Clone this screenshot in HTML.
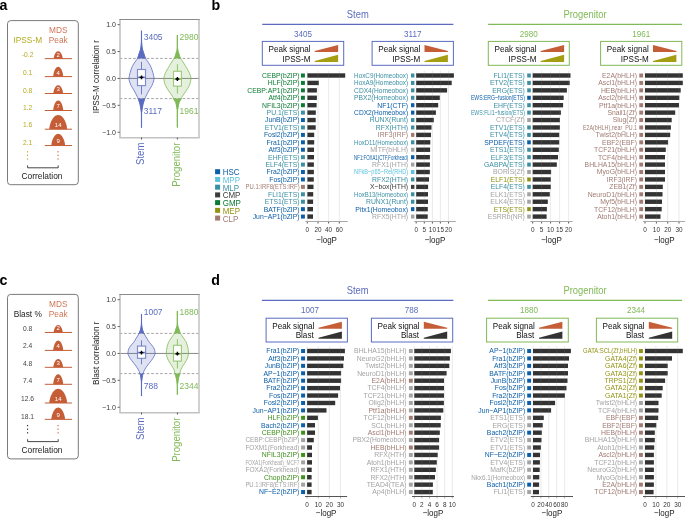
<!DOCTYPE html>
<html><head><meta charset="utf-8"><style>
html,body{margin:0;padding:0;background:#fff;overflow:hidden}
svg{display:block;will-change:transform}
text{font-family:"Liberation Sans", sans-serif}
</style></head><body>
<svg width="685" height="519" viewBox="0 0 685 519">
<rect width="685" height="519" fill="#fff"/>
<text x="-0.60" y="10.00" font-size="14.2" fill="#000" text-anchor="start" font-weight="bold">a</text>
<text x="211.60" y="10.00" font-size="14.2" fill="#000" text-anchor="start" font-weight="bold">b</text>
<text x="-0.60" y="285.30" font-size="14.2" fill="#000" text-anchor="start" font-weight="bold">c</text>
<text x="211.20" y="285.10" font-size="14.2" fill="#000" text-anchor="start" font-weight="bold">d</text>
<rect x="7.5" y="20.60" width="70.8" height="164.10" rx="3.2" fill="none" stroke="#6b6b6b" stroke-width="0.9"/>
<text x="58.30" y="33.00" font-size="8.3" fill="#cf7656" text-anchor="middle" >MDS</text>
<text x="58.30" y="42.70" font-size="8.3" fill="#cf7656" text-anchor="middle" >Peak</text>
<text x="27.80" y="42.70" font-size="8.3" fill="#b3ab22" text-anchor="middle" >IPSS-M</text>
<text x="27.60" y="56.75" font-size="6.7" fill="#b3ab22" text-anchor="middle" >-0.2</text>
<rect x="44.8" y="58.15" width="27.2" height="1.0" fill="#c55d37"/>
<path d="M62.70,58.65 L62.69,58.34 L62.66,58.02 L62.62,57.71 L62.57,57.40 L62.51,57.09 L62.45,56.77 L62.37,56.46 L62.29,56.15 L62.20,55.84 L62.11,55.52 L62.00,55.21 L61.88,54.90 L61.76,54.59 L61.62,54.27 L61.47,53.96 L61.31,53.65 L61.13,53.34 L60.93,53.02 L60.71,52.71 L60.46,52.40 L60.17,52.09 L59.82,51.77 L59.35,51.46 L58.20,51.15 L58.20,51.15 L57.05,51.46 L56.58,51.77 L56.23,52.09 L55.94,52.40 L55.69,52.71 L55.47,53.02 L55.27,53.34 L55.09,53.65 L54.93,53.96 L54.78,54.27 L54.64,54.59 L54.52,54.90 L54.40,55.21 L54.29,55.52 L54.20,55.84 L54.11,56.15 L54.03,56.46 L53.95,56.77 L53.89,57.09 L53.83,57.40 L53.78,57.71 L53.74,58.02 L53.71,58.34 L53.70,58.65 Z" fill="#c55d37"/>
<text x="58.20" y="56.55" font-size="6.0" fill="#fff" text-anchor="middle" >2</text>
<text x="27.60" y="74.55" font-size="6.7" fill="#b3ab22" text-anchor="middle" >0.1</text>
<rect x="44.8" y="76.10" width="27.2" height="1.0" fill="#c55d37"/>
<path d="M63.20,76.60 L63.18,76.19 L63.15,75.78 L63.11,75.37 L63.06,74.96 L62.99,74.55 L62.92,74.14 L62.84,73.73 L62.75,73.32 L62.65,72.91 L62.54,72.50 L62.42,72.09 L62.29,71.67 L62.15,71.26 L62.00,70.85 L61.84,70.44 L61.65,70.03 L61.46,69.62 L61.24,69.21 L60.99,68.80 L60.72,68.39 L60.39,67.98 L60.00,67.57 L59.48,67.16 L58.20,66.75 L58.20,66.75 L56.92,67.16 L56.40,67.57 L56.01,67.98 L55.68,68.39 L55.41,68.80 L55.16,69.21 L54.94,69.62 L54.75,70.03 L54.56,70.44 L54.40,70.85 L54.25,71.26 L54.11,71.67 L53.98,72.09 L53.86,72.50 L53.75,72.91 L53.65,73.32 L53.56,73.73 L53.48,74.14 L53.41,74.55 L53.34,74.96 L53.29,75.37 L53.25,75.78 L53.22,76.19 L53.20,76.60 Z" fill="#c55d37"/>
<text x="58.20" y="74.50" font-size="6.0" fill="#fff" text-anchor="middle" >4</text>
<text x="27.60" y="92.65" font-size="6.7" fill="#b3ab22" text-anchor="middle" >0.8</text>
<rect x="44.8" y="93.00" width="27.2" height="1.0" fill="#c55d37"/>
<path d="M63.05,93.50 L63.03,93.15 L63.00,92.80 L62.96,92.46 L62.91,92.11 L62.85,91.76 L62.78,91.41 L62.70,91.06 L62.61,90.72 L62.52,90.37 L62.41,90.02 L62.30,89.67 L62.17,89.33 L62.03,88.98 L61.89,88.63 L61.73,88.28 L61.55,87.93 L61.36,87.59 L61.15,87.24 L60.91,86.89 L60.64,86.54 L60.33,86.19 L59.95,85.85 L59.44,85.50 L58.20,85.15 L58.20,85.15 L56.96,85.50 L56.45,85.85 L56.07,86.19 L55.76,86.54 L55.49,86.89 L55.25,87.24 L55.04,87.59 L54.85,87.93 L54.67,88.28 L54.51,88.63 L54.37,88.98 L54.23,89.33 L54.10,89.67 L53.99,90.02 L53.88,90.37 L53.79,90.72 L53.70,91.06 L53.62,91.41 L53.55,91.76 L53.49,92.11 L53.44,92.46 L53.40,92.80 L53.37,93.15 L53.35,93.50 Z" fill="#c55d37"/>
<text x="58.20" y="91.40" font-size="6.0" fill="#fff" text-anchor="middle" >3</text>
<text x="27.60" y="109.60" font-size="6.7" fill="#b3ab22" text-anchor="middle" >1.2</text>
<rect x="44.8" y="110.00" width="27.2" height="1.0" fill="#c55d37"/>
<path d="M63.20,110.50 L63.18,110.08 L63.15,109.66 L63.11,109.24 L63.06,108.82 L62.99,108.40 L62.92,107.97 L62.84,107.55 L62.75,107.13 L62.65,106.71 L62.54,106.29 L62.42,105.87 L62.29,105.45 L62.15,105.03 L62.00,104.61 L61.84,104.19 L61.65,103.77 L61.46,103.35 L61.24,102.92 L60.99,102.50 L60.72,102.08 L60.39,101.66 L60.00,101.24 L59.48,100.82 L58.20,100.40 L58.20,100.40 L56.92,100.82 L56.40,101.24 L56.01,101.66 L55.68,102.08 L55.41,102.50 L55.16,102.92 L54.94,103.35 L54.75,103.77 L54.56,104.19 L54.40,104.61 L54.25,105.03 L54.11,105.45 L53.98,105.87 L53.86,106.29 L53.75,106.71 L53.65,107.13 L53.56,107.55 L53.48,107.97 L53.41,108.40 L53.34,108.82 L53.29,109.24 L53.25,109.66 L53.22,110.08 L53.20,110.50 Z" fill="#c55d37"/>
<text x="58.20" y="108.40" font-size="6.0" fill="#fff" text-anchor="middle" >7</text>
<text x="27.60" y="127.25" font-size="6.7" fill="#b3ab22" text-anchor="middle" >1.6</text>
<rect x="44.8" y="128.70" width="27.2" height="1.0" fill="#c55d37"/>
<path d="M67.10,129.20 L67.07,128.60 L67.02,128.01 L66.94,127.41 L66.84,126.82 L66.73,126.22 L66.60,125.62 L66.46,125.03 L66.30,124.43 L66.12,123.84 L65.93,123.24 L65.72,122.65 L65.49,122.05 L65.24,121.45 L64.97,120.86 L64.67,120.26 L64.35,119.67 L64.00,119.07 L63.61,118.47 L63.17,117.88 L62.68,117.28 L62.10,116.69 L61.41,116.09 L60.48,115.50 L58.20,114.90 L58.20,114.90 L55.92,115.50 L54.99,116.09 L54.30,116.69 L53.72,117.28 L53.23,117.88 L52.79,118.47 L52.40,119.07 L52.05,119.67 L51.73,120.26 L51.43,120.86 L51.16,121.45 L50.91,122.05 L50.68,122.65 L50.47,123.24 L50.28,123.84 L50.10,124.43 L49.94,125.03 L49.80,125.62 L49.67,126.22 L49.56,126.82 L49.46,127.41 L49.38,128.01 L49.33,128.60 L49.30,129.20 Z" fill="#c55d37"/>
<text x="58.20" y="127.10" font-size="6.0" fill="#fff" text-anchor="middle" >14</text>
<text x="27.60" y="144.75" font-size="6.7" fill="#b3ab22" text-anchor="middle" >2.1</text>
<rect x="44.8" y="145.05" width="27.2" height="1.0" fill="#c55d37"/>
<path d="M65.05,145.55 L65.03,145.06 L64.99,144.56 L64.93,144.07 L64.85,143.58 L64.77,143.08 L64.67,142.59 L64.56,142.09 L64.43,141.60 L64.30,141.11 L64.15,140.61 L63.98,140.12 L63.81,139.62 L63.62,139.13 L63.41,138.64 L63.18,138.14 L62.93,137.65 L62.66,137.16 L62.36,136.66 L62.03,136.17 L61.65,135.68 L61.20,135.18 L60.67,134.69 L59.96,134.19 L58.20,133.70 L58.20,133.70 L56.44,134.19 L55.73,134.69 L55.20,135.18 L54.75,135.68 L54.37,136.17 L54.04,136.66 L53.74,137.16 L53.47,137.65 L53.22,138.14 L52.99,138.64 L52.78,139.13 L52.59,139.62 L52.42,140.12 L52.25,140.61 L52.10,141.11 L51.97,141.60 L51.84,142.09 L51.73,142.59 L51.63,143.08 L51.55,143.58 L51.47,144.07 L51.41,144.56 L51.37,145.06 L51.35,145.55 Z" fill="#c55d37"/>
<text x="58.20" y="143.45" font-size="6.0" fill="#fff" text-anchor="middle" >9</text>
<rect x="27.0" y="151.20" width="1.1" height="1.2" fill="#b3ab22"/>
<rect x="57.5" y="151.20" width="1.1" height="1.2" fill="#c55d37"/>
<rect x="27.0" y="154.80" width="1.1" height="1.2" fill="#b3ab22"/>
<rect x="57.5" y="154.80" width="1.1" height="1.2" fill="#c55d37"/>
<rect x="27.0" y="158.40" width="1.1" height="1.2" fill="#b3ab22"/>
<rect x="57.5" y="158.40" width="1.1" height="1.2" fill="#c55d37"/>
<path d="M27.6,165.40 V167.80 H58.2 V165.40" fill="none" stroke="#333" stroke-width="0.9"/>
<text x="42.00" y="178.70" font-size="8.4" fill="#222" text-anchor="middle" >Correlation</text>
<rect x="7.5" y="294.40" width="70.8" height="164.50" rx="3.2" fill="none" stroke="#6b6b6b" stroke-width="0.9"/>
<text x="58.30" y="306.80" font-size="8.3" fill="#cf7656" text-anchor="middle" >MDS</text>
<text x="58.30" y="316.50" font-size="8.3" fill="#cf7656" text-anchor="middle" >Peak</text>
<text x="27.80" y="316.50" font-size="8.3" fill="#222" text-anchor="middle" >Blast %</text>
<text x="27.60" y="330.55" font-size="6.7" fill="#444" text-anchor="middle" >0.8</text>
<rect x="44.8" y="331.95" width="27.2" height="1.0" fill="#c55d37"/>
<path d="M62.70,332.45 L62.69,332.14 L62.66,331.82 L62.62,331.51 L62.57,331.20 L62.51,330.89 L62.45,330.57 L62.37,330.26 L62.29,329.95 L62.20,329.64 L62.11,329.32 L62.00,329.01 L61.88,328.70 L61.76,328.39 L61.62,328.07 L61.47,327.76 L61.31,327.45 L61.13,327.14 L60.93,326.82 L60.71,326.51 L60.46,326.20 L60.17,325.89 L59.82,325.57 L59.35,325.26 L58.20,324.95 L58.20,324.95 L57.05,325.26 L56.58,325.57 L56.23,325.89 L55.94,326.20 L55.69,326.51 L55.47,326.82 L55.27,327.14 L55.09,327.45 L54.93,327.76 L54.78,328.07 L54.64,328.39 L54.52,328.70 L54.40,329.01 L54.29,329.32 L54.20,329.64 L54.11,329.95 L54.03,330.26 L53.95,330.57 L53.89,330.89 L53.83,331.20 L53.78,331.51 L53.74,331.82 L53.71,332.14 L53.70,332.45 Z" fill="#c55d37"/>
<text x="58.20" y="330.35" font-size="6.0" fill="#fff" text-anchor="middle" >2</text>
<text x="27.60" y="348.35" font-size="6.7" fill="#444" text-anchor="middle" >2.4</text>
<rect x="44.8" y="349.90" width="27.2" height="1.0" fill="#c55d37"/>
<path d="M63.20,350.40 L63.18,349.99 L63.15,349.58 L63.11,349.17 L63.06,348.76 L62.99,348.35 L62.92,347.94 L62.84,347.53 L62.75,347.12 L62.65,346.71 L62.54,346.30 L62.42,345.89 L62.29,345.47 L62.15,345.06 L62.00,344.65 L61.84,344.24 L61.65,343.83 L61.46,343.42 L61.24,343.01 L60.99,342.60 L60.72,342.19 L60.39,341.78 L60.00,341.37 L59.48,340.96 L58.20,340.55 L58.20,340.55 L56.92,340.96 L56.40,341.37 L56.01,341.78 L55.68,342.19 L55.41,342.60 L55.16,343.01 L54.94,343.42 L54.75,343.83 L54.56,344.24 L54.40,344.65 L54.25,345.06 L54.11,345.47 L53.98,345.89 L53.86,346.30 L53.75,346.71 L53.65,347.12 L53.56,347.53 L53.48,347.94 L53.41,348.35 L53.34,348.76 L53.29,349.17 L53.25,349.58 L53.22,349.99 L53.20,350.40 Z" fill="#c55d37"/>
<text x="58.20" y="348.30" font-size="6.0" fill="#fff" text-anchor="middle" >4</text>
<text x="27.60" y="366.45" font-size="6.7" fill="#444" text-anchor="middle" >4.8</text>
<rect x="44.8" y="366.80" width="27.2" height="1.0" fill="#c55d37"/>
<path d="M63.05,367.30 L63.03,366.95 L63.00,366.60 L62.96,366.26 L62.91,365.91 L62.85,365.56 L62.78,365.21 L62.70,364.86 L62.61,364.52 L62.52,364.17 L62.41,363.82 L62.30,363.47 L62.17,363.12 L62.03,362.78 L61.89,362.43 L61.73,362.08 L61.55,361.73 L61.36,361.39 L61.15,361.04 L60.91,360.69 L60.64,360.34 L60.33,359.99 L59.95,359.65 L59.44,359.30 L58.20,358.95 L58.20,358.95 L56.96,359.30 L56.45,359.65 L56.07,359.99 L55.76,360.34 L55.49,360.69 L55.25,361.04 L55.04,361.39 L54.85,361.73 L54.67,362.08 L54.51,362.43 L54.37,362.78 L54.23,363.12 L54.10,363.47 L53.99,363.82 L53.88,364.17 L53.79,364.52 L53.70,364.86 L53.62,365.21 L53.55,365.56 L53.49,365.91 L53.44,366.26 L53.40,366.60 L53.37,366.95 L53.35,367.30 Z" fill="#c55d37"/>
<text x="58.20" y="365.20" font-size="6.0" fill="#fff" text-anchor="middle" >3</text>
<text x="27.60" y="383.40" font-size="6.7" fill="#444" text-anchor="middle" >7.4</text>
<rect x="44.8" y="383.80" width="27.2" height="1.0" fill="#c55d37"/>
<path d="M63.20,384.30 L63.18,383.88 L63.15,383.46 L63.11,383.04 L63.06,382.62 L62.99,382.20 L62.92,381.77 L62.84,381.35 L62.75,380.93 L62.65,380.51 L62.54,380.09 L62.42,379.67 L62.29,379.25 L62.15,378.83 L62.00,378.41 L61.84,377.99 L61.65,377.57 L61.46,377.15 L61.24,376.72 L60.99,376.30 L60.72,375.88 L60.39,375.46 L60.00,375.04 L59.48,374.62 L58.20,374.20 L58.20,374.20 L56.92,374.62 L56.40,375.04 L56.01,375.46 L55.68,375.88 L55.41,376.30 L55.16,376.72 L54.94,377.15 L54.75,377.57 L54.56,377.99 L54.40,378.41 L54.25,378.83 L54.11,379.25 L53.98,379.67 L53.86,380.09 L53.75,380.51 L53.65,380.93 L53.56,381.35 L53.48,381.77 L53.41,382.20 L53.34,382.62 L53.29,383.04 L53.25,383.46 L53.22,383.88 L53.20,384.30 Z" fill="#c55d37"/>
<text x="58.20" y="382.20" font-size="6.0" fill="#fff" text-anchor="middle" >7</text>
<text x="27.60" y="401.05" font-size="6.7" fill="#444" text-anchor="middle" >12.6</text>
<rect x="44.8" y="402.50" width="27.2" height="1.0" fill="#c55d37"/>
<path d="M67.10,403.00 L67.07,402.40 L67.02,401.81 L66.94,401.21 L66.84,400.62 L66.73,400.02 L66.60,399.43 L66.46,398.83 L66.30,398.23 L66.12,397.64 L65.93,397.04 L65.72,396.45 L65.49,395.85 L65.24,395.25 L64.97,394.66 L64.67,394.06 L64.35,393.47 L64.00,392.87 L63.61,392.27 L63.17,391.68 L62.68,391.08 L62.10,390.49 L61.41,389.89 L60.48,389.30 L58.20,388.70 L58.20,388.70 L55.92,389.30 L54.99,389.89 L54.30,390.49 L53.72,391.08 L53.23,391.68 L52.79,392.27 L52.40,392.87 L52.05,393.47 L51.73,394.06 L51.43,394.66 L51.16,395.25 L50.91,395.85 L50.68,396.45 L50.47,397.04 L50.28,397.64 L50.10,398.23 L49.94,398.83 L49.80,399.43 L49.67,400.02 L49.56,400.62 L49.46,401.21 L49.38,401.81 L49.33,402.40 L49.30,403.00 Z" fill="#c55d37"/>
<text x="58.20" y="400.90" font-size="6.0" fill="#fff" text-anchor="middle" >14</text>
<text x="27.60" y="418.55" font-size="6.7" fill="#444" text-anchor="middle" >18.1</text>
<rect x="44.8" y="418.85" width="27.2" height="1.0" fill="#c55d37"/>
<path d="M65.05,419.35 L65.03,418.86 L64.99,418.36 L64.93,417.87 L64.85,417.37 L64.77,416.88 L64.67,416.39 L64.56,415.89 L64.43,415.40 L64.30,414.91 L64.15,414.41 L63.98,413.92 L63.81,413.42 L63.62,412.93 L63.41,412.44 L63.18,411.94 L62.93,411.45 L62.66,410.96 L62.36,410.46 L62.03,409.97 L61.65,409.47 L61.20,408.98 L60.67,408.49 L59.96,407.99 L58.20,407.50 L58.20,407.50 L56.44,407.99 L55.73,408.49 L55.20,408.98 L54.75,409.47 L54.37,409.97 L54.04,410.46 L53.74,410.96 L53.47,411.45 L53.22,411.94 L52.99,412.44 L52.78,412.93 L52.59,413.42 L52.42,413.92 L52.25,414.41 L52.10,414.91 L51.97,415.40 L51.84,415.89 L51.73,416.39 L51.63,416.88 L51.55,417.37 L51.47,417.87 L51.41,418.36 L51.37,418.86 L51.35,419.35 Z" fill="#c55d37"/>
<text x="58.20" y="417.25" font-size="6.0" fill="#fff" text-anchor="middle" >9</text>
<rect x="27.0" y="425.00" width="1.1" height="1.2" fill="#222"/>
<rect x="57.5" y="425.00" width="1.1" height="1.2" fill="#c55d37"/>
<rect x="27.0" y="428.60" width="1.1" height="1.2" fill="#222"/>
<rect x="57.5" y="428.60" width="1.1" height="1.2" fill="#c55d37"/>
<rect x="27.0" y="432.20" width="1.1" height="1.2" fill="#222"/>
<rect x="57.5" y="432.20" width="1.1" height="1.2" fill="#c55d37"/>
<path d="M27.6,439.20 V441.60 H58.2 V439.20" fill="none" stroke="#333" stroke-width="0.9"/>
<text x="42.00" y="452.50" font-size="8.4" fill="#222" text-anchor="middle" >Correlation</text>
<line x1="119.7" y1="58.40" x2="199.7" y2="58.40" stroke="#8a8a8a" stroke-width="0.8" stroke-dasharray="2.6,1.9"/>
<line x1="119.7" y1="98.60" x2="199.7" y2="98.60" stroke="#8a8a8a" stroke-width="0.8" stroke-dasharray="2.6,1.9"/>
<line x1="119.7" y1="78.45" x2="199.7" y2="78.45" stroke="#7a7a7a" stroke-width="0.9"/>
<path d="M141.55,30.80 C141.55,32.33 141.52,37.72 141.55,40.00 C141.58,42.28 141.64,43.17 141.75,44.50 C141.86,45.83 142.02,47.00 142.20,48.00 C142.38,49.00 142.58,49.75 142.80,50.50 C143.02,51.25 143.22,51.63 143.50,52.50 C143.78,53.37 144.17,54.72 144.50,55.70 C144.83,56.68 145.03,57.52 145.50,58.40 C145.97,59.28 146.65,60.07 147.30,61.00 C147.95,61.93 148.77,62.93 149.40,64.00 C150.03,65.07 150.52,65.95 151.10,67.40 C151.68,68.85 152.42,70.93 152.90,72.70 C153.38,74.47 153.88,76.62 154.00,78.00 C154.12,79.38 153.95,79.73 153.60,81.00 C153.25,82.27 152.72,83.95 151.90,85.60 C151.08,87.25 149.68,89.13 148.70,90.90 C147.72,92.67 146.63,94.93 146.00,96.20 C145.37,97.47 145.22,97.78 144.90,98.50 C144.58,99.22 144.33,99.83 144.10,100.50 C143.87,101.17 143.70,101.83 143.50,102.50 C143.30,103.17 143.07,103.78 142.90,104.50 C142.73,105.22 142.63,106.05 142.50,106.80 C142.37,107.55 142.22,108.30 142.10,109.00 C141.98,109.70 141.89,110.17 141.80,111.00 C141.71,111.83 141.59,111.25 141.55,114.00 C141.51,116.75 141.55,125.25 141.55,127.50 L141.45,127.50 C141.45,125.25 141.49,116.75 141.45,114.00 C141.41,111.25 141.29,111.83 141.20,111.00 C141.11,110.17 141.02,109.70 140.90,109.00 C140.78,108.30 140.63,107.55 140.50,106.80 C140.37,106.05 140.27,105.22 140.10,104.50 C139.93,103.78 139.70,103.17 139.50,102.50 C139.30,101.83 139.13,101.17 138.90,100.50 C138.67,99.83 138.42,99.22 138.10,98.50 C137.78,97.78 137.63,97.47 137.00,96.20 C136.37,94.93 135.28,92.67 134.30,90.90 C133.32,89.13 131.92,87.25 131.10,85.60 C130.28,83.95 129.75,82.27 129.40,81.00 C129.05,79.73 128.88,79.38 129.00,78.00 C129.12,76.62 129.62,74.47 130.10,72.70 C130.58,70.93 131.32,68.85 131.90,67.40 C132.48,65.95 132.97,65.07 133.60,64.00 C134.23,62.93 135.05,61.93 135.70,61.00 C136.35,60.07 137.03,59.28 137.50,58.40 C137.97,57.52 138.17,56.68 138.50,55.70 C138.83,54.72 139.22,53.37 139.50,52.50 C139.78,51.63 139.98,51.25 140.20,50.50 C140.42,49.75 140.62,49.00 140.80,48.00 C140.98,47.00 141.14,45.83 141.25,44.50 C141.36,43.17 141.42,42.28 141.45,40.00 C141.48,37.72 141.45,32.33 141.45,30.80 Z" fill="#5b6cc0" fill-opacity="0.2" stroke="#5b6cc0" stroke-width="0.8" stroke-linejoin="round"/>
<clipPath id="vc1"><rect x="121.5" y="0" width="40" height="58.40"/><rect x="121.5" y="98.50" width="40" height="200"/></clipPath>
<path d="M141.55,30.80 C141.55,32.33 141.52,37.72 141.55,40.00 C141.58,42.28 141.64,43.17 141.75,44.50 C141.86,45.83 142.02,47.00 142.20,48.00 C142.38,49.00 142.58,49.75 142.80,50.50 C143.02,51.25 143.22,51.63 143.50,52.50 C143.78,53.37 144.17,54.72 144.50,55.70 C144.83,56.68 145.03,57.52 145.50,58.40 C145.97,59.28 146.65,60.07 147.30,61.00 C147.95,61.93 148.77,62.93 149.40,64.00 C150.03,65.07 150.52,65.95 151.10,67.40 C151.68,68.85 152.42,70.93 152.90,72.70 C153.38,74.47 153.88,76.62 154.00,78.00 C154.12,79.38 153.95,79.73 153.60,81.00 C153.25,82.27 152.72,83.95 151.90,85.60 C151.08,87.25 149.68,89.13 148.70,90.90 C147.72,92.67 146.63,94.93 146.00,96.20 C145.37,97.47 145.22,97.78 144.90,98.50 C144.58,99.22 144.33,99.83 144.10,100.50 C143.87,101.17 143.70,101.83 143.50,102.50 C143.30,103.17 143.07,103.78 142.90,104.50 C142.73,105.22 142.63,106.05 142.50,106.80 C142.37,107.55 142.22,108.30 142.10,109.00 C141.98,109.70 141.89,110.17 141.80,111.00 C141.71,111.83 141.59,111.25 141.55,114.00 C141.51,116.75 141.55,125.25 141.55,127.50 L141.45,127.50 C141.45,125.25 141.49,116.75 141.45,114.00 C141.41,111.25 141.29,111.83 141.20,111.00 C141.11,110.17 141.02,109.70 140.90,109.00 C140.78,108.30 140.63,107.55 140.50,106.80 C140.37,106.05 140.27,105.22 140.10,104.50 C139.93,103.78 139.70,103.17 139.50,102.50 C139.30,101.83 139.13,101.17 138.90,100.50 C138.67,99.83 138.42,99.22 138.10,98.50 C137.78,97.78 137.63,97.47 137.00,96.20 C136.37,94.93 135.28,92.67 134.30,90.90 C133.32,89.13 131.92,87.25 131.10,85.60 C130.28,83.95 129.75,82.27 129.40,81.00 C129.05,79.73 128.88,79.38 129.00,78.00 C129.12,76.62 129.62,74.47 130.10,72.70 C130.58,70.93 131.32,68.85 131.90,67.40 C132.48,65.95 132.97,65.07 133.60,64.00 C134.23,62.93 135.05,61.93 135.70,61.00 C136.35,60.07 137.03,59.28 137.50,58.40 C137.97,57.52 138.17,56.68 138.50,55.70 C138.83,54.72 139.22,53.37 139.50,52.50 C139.78,51.63 139.98,51.25 140.20,50.50 C140.42,49.75 140.62,49.00 140.80,48.00 C140.98,47.00 141.14,45.83 141.25,44.50 C141.36,43.17 141.42,42.28 141.45,40.00 C141.48,37.72 141.45,32.33 141.45,30.80 Z" fill="#5b6cc0" stroke="#5b6cc0" stroke-width="0.8" clip-path="url(#vc1)"/>
<line x1="141.50" y1="61.90" x2="141.50" y2="69.50" stroke="#5b6cc0" stroke-width="0.85"/>
<line x1="141.50" y1="85.60" x2="141.50" y2="94.40" stroke="#5b6cc0" stroke-width="0.85"/>
<rect x="137.50" y="69.50" width="8.00" height="16.10" fill="#fff" stroke="#5b6cc0" stroke-opacity="0.75" stroke-width="1.15"/>
<line x1="137.50" y1="77.40" x2="145.50" y2="77.40" stroke="#5b6cc0" stroke-opacity="0.85" stroke-width="1.7"/>
<path d="M140.80,75.50 H142.20 V76.70 H143.40 V78.10 H142.20 V79.30 H140.80 V78.10 H139.60 V76.70 H140.80 Z" fill="#000"/>
<path d="M140.20,77.40 L141.50,76.10 L142.80,77.40 L141.50,78.70 Z" fill="#000"/>
<path d="M177.45,35.10 C177.45,36.75 177.41,42.62 177.45,45.00 C177.49,47.38 177.58,48.32 177.70,49.40 C177.82,50.48 177.97,50.80 178.15,51.50 C178.33,52.20 178.61,52.97 178.80,53.60 C178.99,54.23 179.13,54.77 179.30,55.30 C179.47,55.83 179.58,56.28 179.80,56.80 C180.02,57.32 180.17,57.70 180.60,58.40 C181.03,59.10 181.78,60.07 182.40,61.00 C183.02,61.93 183.65,62.93 184.30,64.00 C184.95,65.07 185.47,65.95 186.30,67.40 C187.13,68.85 188.52,70.92 189.30,72.70 C190.08,74.48 190.80,76.63 191.00,78.10 C191.20,79.57 190.78,80.25 190.50,81.50 C190.22,82.75 190.03,84.03 189.30,85.60 C188.57,87.17 187.25,89.13 186.10,90.90 C184.95,92.67 183.18,94.93 182.40,96.20 C181.62,97.47 181.78,97.78 181.40,98.50 C181.02,99.22 180.50,99.83 180.10,100.50 C179.70,101.17 179.27,101.83 179.00,102.50 C178.73,103.17 178.65,103.78 178.50,104.50 C178.35,105.22 178.23,106.05 178.10,106.80 C177.97,107.55 177.81,108.13 177.70,109.00 C177.59,109.87 177.49,108.93 177.45,112.00 C177.41,115.07 177.45,124.83 177.45,127.40 L177.35,127.40 C177.35,124.83 177.39,115.07 177.35,112.00 C177.31,108.93 177.21,109.87 177.10,109.00 C176.99,108.13 176.83,107.55 176.70,106.80 C176.57,106.05 176.45,105.22 176.30,104.50 C176.15,103.78 176.07,103.17 175.80,102.50 C175.53,101.83 175.10,101.17 174.70,100.50 C174.30,99.83 173.78,99.22 173.40,98.50 C173.02,97.78 173.18,97.47 172.40,96.20 C171.62,94.93 169.85,92.67 168.70,90.90 C167.55,89.13 166.23,87.17 165.50,85.60 C164.77,84.03 164.58,82.75 164.30,81.50 C164.02,80.25 163.60,79.57 163.80,78.10 C164.00,76.63 164.72,74.48 165.50,72.70 C166.28,70.92 167.67,68.85 168.50,67.40 C169.33,65.95 169.85,65.07 170.50,64.00 C171.15,62.93 171.78,61.93 172.40,61.00 C173.02,60.07 173.77,59.10 174.20,58.40 C174.63,57.70 174.78,57.32 175.00,56.80 C175.22,56.28 175.33,55.83 175.50,55.30 C175.67,54.77 175.81,54.23 176.00,53.60 C176.19,52.97 176.47,52.20 176.65,51.50 C176.83,50.80 176.98,50.48 177.10,49.40 C177.22,48.32 177.31,47.38 177.35,45.00 C177.39,42.62 177.35,36.75 177.35,35.10 Z" fill="#80b957" fill-opacity="0.2" stroke="#80b957" stroke-width="0.8" stroke-linejoin="round"/>
<clipPath id="vc2"><rect x="157.4" y="0" width="40" height="58.40"/><rect x="157.4" y="98.50" width="40" height="200"/></clipPath>
<path d="M177.45,35.10 C177.45,36.75 177.41,42.62 177.45,45.00 C177.49,47.38 177.58,48.32 177.70,49.40 C177.82,50.48 177.97,50.80 178.15,51.50 C178.33,52.20 178.61,52.97 178.80,53.60 C178.99,54.23 179.13,54.77 179.30,55.30 C179.47,55.83 179.58,56.28 179.80,56.80 C180.02,57.32 180.17,57.70 180.60,58.40 C181.03,59.10 181.78,60.07 182.40,61.00 C183.02,61.93 183.65,62.93 184.30,64.00 C184.95,65.07 185.47,65.95 186.30,67.40 C187.13,68.85 188.52,70.92 189.30,72.70 C190.08,74.48 190.80,76.63 191.00,78.10 C191.20,79.57 190.78,80.25 190.50,81.50 C190.22,82.75 190.03,84.03 189.30,85.60 C188.57,87.17 187.25,89.13 186.10,90.90 C184.95,92.67 183.18,94.93 182.40,96.20 C181.62,97.47 181.78,97.78 181.40,98.50 C181.02,99.22 180.50,99.83 180.10,100.50 C179.70,101.17 179.27,101.83 179.00,102.50 C178.73,103.17 178.65,103.78 178.50,104.50 C178.35,105.22 178.23,106.05 178.10,106.80 C177.97,107.55 177.81,108.13 177.70,109.00 C177.59,109.87 177.49,108.93 177.45,112.00 C177.41,115.07 177.45,124.83 177.45,127.40 L177.35,127.40 C177.35,124.83 177.39,115.07 177.35,112.00 C177.31,108.93 177.21,109.87 177.10,109.00 C176.99,108.13 176.83,107.55 176.70,106.80 C176.57,106.05 176.45,105.22 176.30,104.50 C176.15,103.78 176.07,103.17 175.80,102.50 C175.53,101.83 175.10,101.17 174.70,100.50 C174.30,99.83 173.78,99.22 173.40,98.50 C173.02,97.78 173.18,97.47 172.40,96.20 C171.62,94.93 169.85,92.67 168.70,90.90 C167.55,89.13 166.23,87.17 165.50,85.60 C164.77,84.03 164.58,82.75 164.30,81.50 C164.02,80.25 163.60,79.57 163.80,78.10 C164.00,76.63 164.72,74.48 165.50,72.70 C166.28,70.92 167.67,68.85 168.50,67.40 C169.33,65.95 169.85,65.07 170.50,64.00 C171.15,62.93 171.78,61.93 172.40,61.00 C173.02,60.07 173.77,59.10 174.20,58.40 C174.63,57.70 174.78,57.32 175.00,56.80 C175.22,56.28 175.33,55.83 175.50,55.30 C175.67,54.77 175.81,54.23 176.00,53.60 C176.19,52.97 176.47,52.20 176.65,51.50 C176.83,50.80 176.98,50.48 177.10,49.40 C177.22,48.32 177.31,47.38 177.35,45.00 C177.39,42.62 177.35,36.75 177.35,35.10 Z" fill="#80b957" stroke="#80b957" stroke-width="0.8" clip-path="url(#vc2)"/>
<line x1="177.40" y1="64.20" x2="177.40" y2="71.30" stroke="#80b957" stroke-width="0.85"/>
<line x1="177.40" y1="86.10" x2="177.40" y2="93.50" stroke="#80b957" stroke-width="0.85"/>
<rect x="173.50" y="71.30" width="7.90" height="14.80" fill="#fff" stroke="#80b957" stroke-opacity="0.75" stroke-width="1.15"/>
<line x1="173.50" y1="79.00" x2="181.40" y2="79.00" stroke="#80b957" stroke-opacity="0.85" stroke-width="1.7"/>
<path d="M176.70,77.10 H178.10 V78.30 H179.30 V79.70 H178.10 V80.90 H176.70 V79.70 H175.50 V78.30 H176.70 Z" fill="#000"/>
<path d="M176.10,79.00 L177.40,77.70 L178.70,79.00 L177.40,80.30 Z" fill="#000"/>
<line x1="120.0" y1="19.40" x2="120.0" y2="137.70" stroke="#bdbdbd" stroke-width="1.5"/>
<line x1="199.0" y1="19.40" x2="199.0" y2="137.70" stroke="#c2c2c2" stroke-width="1.5"/>
<line x1="119.3" y1="137.70" x2="199.7" y2="137.70" stroke="#c2c2c2" stroke-width="1.5"/>
<line x1="119.3" y1="19.50" x2="199.7" y2="19.50" stroke="#8a8a8a" stroke-width="1.1"/>
<line x1="117.6" y1="24.65" x2="119.7" y2="24.65" stroke="#333" stroke-width="0.8"/>
<text x="115.90" y="27.20" font-size="7.0" fill="#333" text-anchor="end" >1.0</text>
<line x1="117.6" y1="51.55" x2="119.7" y2="51.55" stroke="#333" stroke-width="0.8"/>
<text x="115.90" y="54.10" font-size="7.0" fill="#333" text-anchor="end" >0.5</text>
<line x1="117.6" y1="78.45" x2="119.7" y2="78.45" stroke="#333" stroke-width="0.8"/>
<text x="115.90" y="81.00" font-size="7.0" fill="#333" text-anchor="end" >0.0</text>
<line x1="117.6" y1="105.35" x2="119.7" y2="105.35" stroke="#333" stroke-width="0.8"/>
<text x="115.90" y="107.90" font-size="7.0" fill="#333" text-anchor="end" >−0.5</text>
<line x1="117.6" y1="132.25" x2="119.7" y2="132.25" stroke="#333" stroke-width="0.8"/>
<text x="115.90" y="134.80" font-size="7.0" fill="#333" text-anchor="end" >−1.0</text>
<line x1="141.5" y1="137.60" x2="141.5" y2="139.50" stroke="#333" stroke-width="0.8"/>
<line x1="177.4" y1="137.60" x2="177.4" y2="139.50" stroke="#333" stroke-width="0.8"/>
<text transform="translate(144.4,142.60) rotate(-90) scale(1,1.1)" font-size="9.6" fill="#5b6cc0" text-anchor="end">Stem</text>
<text transform="translate(179.8,142.60) rotate(-90) scale(1,1.1)" font-size="9.6" fill="#80b957" text-anchor="end">Progenitor</text>
<text transform="translate(99.1,76.75) rotate(-90) scale(1,1.1)" font-size="8.15" fill="#222" text-anchor="middle">IPSS-M correlation r</text>
<text transform="translate(143.70,40.10) scale(1,1.1)" font-size="8.5" fill="#5b6cc0" text-anchor="start" >3405</text>
<text transform="translate(179.50,40.10) scale(1,1.1)" font-size="8.5" fill="#80b957" text-anchor="start" >2980</text>
<text transform="translate(143.70,113.70) scale(1,1.1)" font-size="8.5" fill="#5b6cc0" text-anchor="start" >3117</text>
<text transform="translate(179.50,113.70) scale(1,1.1)" font-size="8.5" fill="#80b957" text-anchor="start" >1961</text>
<line x1="119.7" y1="333.40" x2="199.7" y2="333.40" stroke="#8a8a8a" stroke-width="0.8" stroke-dasharray="2.6,1.9"/>
<line x1="119.7" y1="373.60" x2="199.7" y2="373.60" stroke="#8a8a8a" stroke-width="0.8" stroke-dasharray="2.6,1.9"/>
<line x1="119.7" y1="353.45" x2="199.7" y2="353.45" stroke="#7a7a7a" stroke-width="0.9"/>
<path d="M141.55,314.30 C141.55,315.75 141.50,320.97 141.55,323.00 C141.60,325.03 141.72,325.53 141.85,326.50 C141.97,327.47 142.14,328.10 142.30,328.80 C142.46,329.50 142.53,329.93 142.80,330.70 C143.07,331.47 143.47,332.52 143.90,333.40 C144.33,334.28 144.83,335.07 145.40,336.00 C145.97,336.93 146.63,337.93 147.30,339.00 C147.97,340.07 148.33,340.95 149.40,342.40 C150.47,343.85 152.75,345.93 153.70,347.70 C154.65,349.47 155.05,351.55 155.10,353.00 C155.15,354.45 154.63,355.13 154.00,356.40 C153.37,357.67 152.45,359.02 151.30,360.60 C150.15,362.18 148.13,364.50 147.10,365.90 C146.07,367.30 145.63,368.12 145.10,369.00 C144.57,369.88 144.23,370.45 143.90,371.20 C143.57,371.95 143.33,372.78 143.10,373.50 C142.87,374.22 142.67,374.83 142.50,375.50 C142.33,376.17 142.22,376.75 142.10,377.50 C141.97,378.25 141.84,379.08 141.75,380.00 C141.66,380.92 141.58,380.33 141.55,383.00 C141.52,385.67 141.55,393.83 141.55,396.00 L141.45,396.00 C141.45,393.83 141.48,385.67 141.45,383.00 C141.42,380.33 141.34,380.92 141.25,380.00 C141.16,379.08 141.03,378.25 140.90,377.50 C140.78,376.75 140.67,376.17 140.50,375.50 C140.33,374.83 140.13,374.22 139.90,373.50 C139.67,372.78 139.43,371.95 139.10,371.20 C138.77,370.45 138.43,369.88 137.90,369.00 C137.37,368.12 136.93,367.30 135.90,365.90 C134.87,364.50 132.85,362.18 131.70,360.60 C130.55,359.02 129.63,357.67 129.00,356.40 C128.37,355.13 127.85,354.45 127.90,353.00 C127.95,351.55 128.35,349.47 129.30,347.70 C130.25,345.93 132.53,343.85 133.60,342.40 C134.67,340.95 135.03,340.07 135.70,339.00 C136.37,337.93 137.03,336.93 137.60,336.00 C138.17,335.07 138.67,334.28 139.10,333.40 C139.53,332.52 139.93,331.47 140.20,330.70 C140.47,329.93 140.54,329.50 140.70,328.80 C140.86,328.10 141.03,327.47 141.15,326.50 C141.28,325.53 141.40,325.03 141.45,323.00 C141.50,320.97 141.45,315.75 141.45,314.30 Z" fill="#5b6cc0" fill-opacity="0.2" stroke="#5b6cc0" stroke-width="0.8" stroke-linejoin="round"/>
<clipPath id="vc3"><rect x="121.5" y="0" width="40" height="333.40"/><rect x="121.5" y="373.50" width="40" height="200"/></clipPath>
<path d="M141.55,314.30 C141.55,315.75 141.50,320.97 141.55,323.00 C141.60,325.03 141.72,325.53 141.85,326.50 C141.97,327.47 142.14,328.10 142.30,328.80 C142.46,329.50 142.53,329.93 142.80,330.70 C143.07,331.47 143.47,332.52 143.90,333.40 C144.33,334.28 144.83,335.07 145.40,336.00 C145.97,336.93 146.63,337.93 147.30,339.00 C147.97,340.07 148.33,340.95 149.40,342.40 C150.47,343.85 152.75,345.93 153.70,347.70 C154.65,349.47 155.05,351.55 155.10,353.00 C155.15,354.45 154.63,355.13 154.00,356.40 C153.37,357.67 152.45,359.02 151.30,360.60 C150.15,362.18 148.13,364.50 147.10,365.90 C146.07,367.30 145.63,368.12 145.10,369.00 C144.57,369.88 144.23,370.45 143.90,371.20 C143.57,371.95 143.33,372.78 143.10,373.50 C142.87,374.22 142.67,374.83 142.50,375.50 C142.33,376.17 142.22,376.75 142.10,377.50 C141.97,378.25 141.84,379.08 141.75,380.00 C141.66,380.92 141.58,380.33 141.55,383.00 C141.52,385.67 141.55,393.83 141.55,396.00 L141.45,396.00 C141.45,393.83 141.48,385.67 141.45,383.00 C141.42,380.33 141.34,380.92 141.25,380.00 C141.16,379.08 141.03,378.25 140.90,377.50 C140.78,376.75 140.67,376.17 140.50,375.50 C140.33,374.83 140.13,374.22 139.90,373.50 C139.67,372.78 139.43,371.95 139.10,371.20 C138.77,370.45 138.43,369.88 137.90,369.00 C137.37,368.12 136.93,367.30 135.90,365.90 C134.87,364.50 132.85,362.18 131.70,360.60 C130.55,359.02 129.63,357.67 129.00,356.40 C128.37,355.13 127.85,354.45 127.90,353.00 C127.95,351.55 128.35,349.47 129.30,347.70 C130.25,345.93 132.53,343.85 133.60,342.40 C134.67,340.95 135.03,340.07 135.70,339.00 C136.37,337.93 137.03,336.93 137.60,336.00 C138.17,335.07 138.67,334.28 139.10,333.40 C139.53,332.52 139.93,331.47 140.20,330.70 C140.47,329.93 140.54,329.50 140.70,328.80 C140.86,328.10 141.03,327.47 141.15,326.50 C141.28,325.53 141.40,325.03 141.45,323.00 C141.50,320.97 141.45,315.75 141.45,314.30 Z" fill="#5b6cc0" stroke="#5b6cc0" stroke-width="0.8" clip-path="url(#vc3)"/>
<line x1="141.50" y1="340.30" x2="141.50" y2="346.10" stroke="#5b6cc0" stroke-width="0.85"/>
<line x1="141.50" y1="358.30" x2="141.50" y2="364.30" stroke="#5b6cc0" stroke-width="0.85"/>
<rect x="137.50" y="346.10" width="8.10" height="12.20" fill="#fff" stroke="#5b6cc0" stroke-opacity="0.75" stroke-width="1.15"/>
<line x1="137.50" y1="352.60" x2="145.60" y2="352.60" stroke="#5b6cc0" stroke-opacity="0.85" stroke-width="1.7"/>
<path d="M140.80,350.70 H142.20 V351.90 H143.40 V353.30 H142.20 V354.50 H140.80 V353.30 H139.60 V351.90 H140.80 Z" fill="#000"/>
<path d="M140.20,352.60 L141.50,351.30 L142.80,352.60 L141.50,353.90 Z" fill="#000"/>
<path d="M177.45,311.10 C177.45,312.75 177.41,318.62 177.45,321.00 C177.49,323.38 177.58,324.37 177.70,325.40 C177.83,326.43 178.03,326.67 178.20,327.20 C178.37,327.73 178.45,327.83 178.70,328.60 C178.95,329.37 179.42,331.00 179.70,331.80 C179.98,332.60 179.98,332.70 180.40,333.40 C180.82,334.10 181.57,335.07 182.20,336.00 C182.83,336.93 183.52,337.93 184.20,339.00 C184.88,340.07 185.68,340.95 186.30,342.40 C186.92,343.85 187.53,345.93 187.90,347.70 C188.27,349.47 188.48,351.55 188.50,353.00 C188.52,354.45 188.37,355.13 188.00,356.40 C187.63,357.67 187.15,359.02 186.30,360.60 C185.45,362.18 183.75,364.50 182.90,365.90 C182.05,367.30 181.63,368.12 181.20,369.00 C180.77,369.88 180.52,370.45 180.30,371.20 C180.08,371.95 180.08,372.78 179.90,373.50 C179.72,374.22 179.42,374.83 179.20,375.50 C178.98,376.17 178.77,376.83 178.60,377.50 C178.43,378.17 178.32,378.78 178.20,379.50 C178.08,380.22 178.00,381.05 177.90,381.80 C177.80,382.55 177.67,383.13 177.60,384.00 C177.53,384.87 177.48,385.25 177.45,387.00 C177.43,388.75 177.45,393.25 177.45,394.50 L177.35,394.50 C177.35,393.25 177.38,388.75 177.35,387.00 C177.32,385.25 177.28,384.87 177.20,384.00 C177.13,383.13 177.00,382.55 176.90,381.80 C176.80,381.05 176.72,380.22 176.60,379.50 C176.48,378.78 176.37,378.17 176.20,377.50 C176.03,376.83 175.82,376.17 175.60,375.50 C175.38,374.83 175.08,374.22 174.90,373.50 C174.72,372.78 174.72,371.95 174.50,371.20 C174.28,370.45 174.03,369.88 173.60,369.00 C173.17,368.12 172.75,367.30 171.90,365.90 C171.05,364.50 169.35,362.18 168.50,360.60 C167.65,359.02 167.17,357.67 166.80,356.40 C166.43,355.13 166.28,354.45 166.30,353.00 C166.32,351.55 166.53,349.47 166.90,347.70 C167.27,345.93 167.88,343.85 168.50,342.40 C169.12,340.95 169.92,340.07 170.60,339.00 C171.28,337.93 171.97,336.93 172.60,336.00 C173.23,335.07 173.98,334.10 174.40,333.40 C174.82,332.70 174.82,332.60 175.10,331.80 C175.38,331.00 175.85,329.37 176.10,328.60 C176.35,327.83 176.43,327.73 176.60,327.20 C176.77,326.67 176.97,326.43 177.10,325.40 C177.22,324.37 177.31,323.38 177.35,321.00 C177.39,318.62 177.35,312.75 177.35,311.10 Z" fill="#80b957" fill-opacity="0.2" stroke="#80b957" stroke-width="0.8" stroke-linejoin="round"/>
<clipPath id="vc4"><rect x="157.4" y="0" width="40" height="333.40"/><rect x="157.4" y="373.50" width="40" height="200"/></clipPath>
<path d="M177.45,311.10 C177.45,312.75 177.41,318.62 177.45,321.00 C177.49,323.38 177.58,324.37 177.70,325.40 C177.83,326.43 178.03,326.67 178.20,327.20 C178.37,327.73 178.45,327.83 178.70,328.60 C178.95,329.37 179.42,331.00 179.70,331.80 C179.98,332.60 179.98,332.70 180.40,333.40 C180.82,334.10 181.57,335.07 182.20,336.00 C182.83,336.93 183.52,337.93 184.20,339.00 C184.88,340.07 185.68,340.95 186.30,342.40 C186.92,343.85 187.53,345.93 187.90,347.70 C188.27,349.47 188.48,351.55 188.50,353.00 C188.52,354.45 188.37,355.13 188.00,356.40 C187.63,357.67 187.15,359.02 186.30,360.60 C185.45,362.18 183.75,364.50 182.90,365.90 C182.05,367.30 181.63,368.12 181.20,369.00 C180.77,369.88 180.52,370.45 180.30,371.20 C180.08,371.95 180.08,372.78 179.90,373.50 C179.72,374.22 179.42,374.83 179.20,375.50 C178.98,376.17 178.77,376.83 178.60,377.50 C178.43,378.17 178.32,378.78 178.20,379.50 C178.08,380.22 178.00,381.05 177.90,381.80 C177.80,382.55 177.67,383.13 177.60,384.00 C177.53,384.87 177.48,385.25 177.45,387.00 C177.43,388.75 177.45,393.25 177.45,394.50 L177.35,394.50 C177.35,393.25 177.38,388.75 177.35,387.00 C177.32,385.25 177.28,384.87 177.20,384.00 C177.13,383.13 177.00,382.55 176.90,381.80 C176.80,381.05 176.72,380.22 176.60,379.50 C176.48,378.78 176.37,378.17 176.20,377.50 C176.03,376.83 175.82,376.17 175.60,375.50 C175.38,374.83 175.08,374.22 174.90,373.50 C174.72,372.78 174.72,371.95 174.50,371.20 C174.28,370.45 174.03,369.88 173.60,369.00 C173.17,368.12 172.75,367.30 171.90,365.90 C171.05,364.50 169.35,362.18 168.50,360.60 C167.65,359.02 167.17,357.67 166.80,356.40 C166.43,355.13 166.28,354.45 166.30,353.00 C166.32,351.55 166.53,349.47 166.90,347.70 C167.27,345.93 167.88,343.85 168.50,342.40 C169.12,340.95 169.92,340.07 170.60,339.00 C171.28,337.93 171.97,336.93 172.60,336.00 C173.23,335.07 173.98,334.10 174.40,333.40 C174.82,332.70 174.82,332.60 175.10,331.80 C175.38,331.00 175.85,329.37 176.10,328.60 C176.35,327.83 176.43,327.73 176.60,327.20 C176.77,326.67 176.97,326.43 177.10,325.40 C177.22,324.37 177.31,323.38 177.35,321.00 C177.39,318.62 177.35,312.75 177.35,311.10 Z" fill="#80b957" stroke="#80b957" stroke-width="0.8" clip-path="url(#vc4)"/>
<line x1="177.40" y1="339.20" x2="177.40" y2="345.30" stroke="#80b957" stroke-width="0.85"/>
<line x1="177.40" y1="361.10" x2="177.40" y2="368.50" stroke="#80b957" stroke-width="0.85"/>
<rect x="173.50" y="345.30" width="7.90" height="15.80" fill="#fff" stroke="#80b957" stroke-opacity="0.75" stroke-width="1.15"/>
<line x1="173.50" y1="353.70" x2="181.40" y2="353.70" stroke="#80b957" stroke-opacity="0.85" stroke-width="1.7"/>
<path d="M176.70,351.80 H178.10 V353.00 H179.30 V354.40 H178.10 V355.60 H176.70 V354.40 H175.50 V353.00 H176.70 Z" fill="#000"/>
<path d="M176.10,353.70 L177.40,352.40 L178.70,353.70 L177.40,355.00 Z" fill="#000"/>
<line x1="120.0" y1="294.40" x2="120.0" y2="412.70" stroke="#bdbdbd" stroke-width="1.5"/>
<line x1="199.0" y1="294.40" x2="199.0" y2="412.70" stroke="#c2c2c2" stroke-width="1.5"/>
<line x1="119.3" y1="412.70" x2="199.7" y2="412.70" stroke="#c2c2c2" stroke-width="1.5"/>
<line x1="119.3" y1="294.50" x2="199.7" y2="294.50" stroke="#8a8a8a" stroke-width="1.1"/>
<line x1="117.6" y1="299.65" x2="119.7" y2="299.65" stroke="#333" stroke-width="0.8"/>
<text x="115.90" y="302.20" font-size="7.0" fill="#333" text-anchor="end" >1.0</text>
<line x1="117.6" y1="326.55" x2="119.7" y2="326.55" stroke="#333" stroke-width="0.8"/>
<text x="115.90" y="329.10" font-size="7.0" fill="#333" text-anchor="end" >0.5</text>
<line x1="117.6" y1="353.45" x2="119.7" y2="353.45" stroke="#333" stroke-width="0.8"/>
<text x="115.90" y="356.00" font-size="7.0" fill="#333" text-anchor="end" >0.0</text>
<line x1="117.6" y1="380.35" x2="119.7" y2="380.35" stroke="#333" stroke-width="0.8"/>
<text x="115.90" y="382.90" font-size="7.0" fill="#333" text-anchor="end" >−0.5</text>
<line x1="117.6" y1="407.25" x2="119.7" y2="407.25" stroke="#333" stroke-width="0.8"/>
<text x="115.90" y="409.80" font-size="7.0" fill="#333" text-anchor="end" >−1.0</text>
<line x1="141.5" y1="412.60" x2="141.5" y2="414.50" stroke="#333" stroke-width="0.8"/>
<line x1="177.4" y1="412.60" x2="177.4" y2="414.50" stroke="#333" stroke-width="0.8"/>
<text transform="translate(144.4,417.60) rotate(-90) scale(1,1.1)" font-size="9.6" fill="#5b6cc0" text-anchor="end">Stem</text>
<text transform="translate(179.8,417.60) rotate(-90) scale(1,1.1)" font-size="9.6" fill="#80b957" text-anchor="end">Progenitor</text>
<text transform="translate(99.1,353.25) rotate(-90) scale(1,1.1)" font-size="8.15" fill="#222" text-anchor="middle">Blast correlation r</text>
<text transform="translate(143.70,315.10) scale(1,1.1)" font-size="8.5" fill="#5b6cc0" text-anchor="start" >1007</text>
<text transform="translate(179.50,315.10) scale(1,1.1)" font-size="8.5" fill="#80b957" text-anchor="start" >1880</text>
<text transform="translate(143.70,389.10) scale(1,1.1)" font-size="8.5" fill="#5b6cc0" text-anchor="start" >788</text>
<text transform="translate(179.50,389.10) scale(1,1.1)" font-size="8.5" fill="#80b957" text-anchor="start" >2344</text>
<line x1="307.30" y1="70.70" x2="307.30" y2="221.50" stroke="#e3e3e3" stroke-width="0.8"/>
<line x1="318.00" y1="70.70" x2="318.00" y2="221.50" stroke="#e3e3e3" stroke-width="0.8"/>
<line x1="328.60" y1="70.70" x2="328.60" y2="221.50" stroke="#e3e3e3" stroke-width="0.8"/>
<line x1="339.30" y1="70.70" x2="339.30" y2="221.50" stroke="#e3e3e3" stroke-width="0.8"/>
<rect x="307.40" y="73.30" width="37.80" height="4.4" fill="#333333"/>
<rect x="301.00" y="73.50" width="3.9" height="4.0" fill="#0b7a32"/>
<text transform="translate(299.60,77.85) scale(1,1.08)" font-size="6.85" fill="#0b7a32" text-anchor="end" >CEBP(bZIP)</text>
<rect x="307.40" y="80.72" width="11.40" height="4.4" fill="#333333"/>
<rect x="301.00" y="80.92" width="3.9" height="4.0" fill="#0b7a32"/>
<text transform="translate(299.60,85.27) scale(1,1.08)" font-size="6.85" fill="#0b7a32" text-anchor="end" >HLF(bZIP)</text>
<rect x="307.40" y="88.15" width="9.50" height="4.4" fill="#333333"/>
<rect x="301.00" y="88.35" width="3.9" height="4.0" fill="#0b7a32"/>
<text transform="translate(299.60,92.70) scale(1,1.08)" font-size="6.85" fill="#0b7a32" text-anchor="end" >CEBP:AP1(bZIP)</text>
<rect x="307.40" y="95.58" width="9.50" height="4.4" fill="#333333"/>
<rect x="301.00" y="95.78" width="3.9" height="4.0" fill="#0b7a32"/>
<text transform="translate(299.60,100.12) scale(1,1.08)" font-size="6.85" fill="#0b7a32" text-anchor="end" >Atf4(bZIP)</text>
<rect x="307.40" y="103.00" width="9.20" height="4.4" fill="#333333"/>
<rect x="301.00" y="103.20" width="3.9" height="4.0" fill="#0b7a32"/>
<text transform="translate(299.60,107.55) scale(1,1.08)" font-size="6.85" fill="#0b7a32" text-anchor="end" >NFIL3(bZIP)</text>
<rect x="307.40" y="110.42" width="8.40" height="4.4" fill="#333333"/>
<rect x="301.00" y="110.62" width="3.9" height="4.0" fill="#3a8fa3"/>
<text transform="translate(299.60,114.97) scale(1,1.08)" font-size="6.85" fill="#3a8fa3" text-anchor="end" >PU.1(ETS)</text>
<rect x="307.40" y="117.85" width="8.30" height="4.4" fill="#333333"/>
<rect x="301.00" y="118.05" width="3.9" height="4.0" fill="#0b5ea8"/>
<text transform="translate(299.60,122.40) scale(1,1.08)" font-size="6.85" fill="#0b5ea8" text-anchor="end" >JunB(bZIP)</text>
<rect x="307.40" y="125.27" width="8.30" height="4.4" fill="#333333"/>
<rect x="301.00" y="125.47" width="3.9" height="4.0" fill="#3a8fa3"/>
<text transform="translate(299.60,129.82) scale(1,1.08)" font-size="6.85" fill="#3a8fa3" text-anchor="end" >ETV1(ETS)</text>
<rect x="307.40" y="132.70" width="6.80" height="4.4" fill="#333333"/>
<rect x="301.00" y="132.90" width="3.9" height="4.0" fill="#0b5ea8"/>
<text transform="translate(299.60,137.25) scale(1,1.08)" font-size="6.85" fill="#0b5ea8" text-anchor="end" >Fosl2(bZIP)</text>
<rect x="307.40" y="140.12" width="6.80" height="4.4" fill="#333333"/>
<rect x="301.00" y="140.32" width="3.9" height="4.0" fill="#0b5ea8"/>
<text transform="translate(299.60,144.67) scale(1,1.08)" font-size="6.85" fill="#0b5ea8" text-anchor="end" >Fra1(bZIP)</text>
<rect x="307.40" y="147.55" width="6.60" height="4.4" fill="#333333"/>
<rect x="301.00" y="147.75" width="3.9" height="4.0" fill="#0b5ea8"/>
<text transform="translate(299.60,152.10) scale(1,1.08)" font-size="6.85" fill="#0b5ea8" text-anchor="end" >Atf3(bZIP)</text>
<rect x="307.40" y="154.98" width="6.60" height="4.4" fill="#333333"/>
<rect x="301.00" y="155.18" width="3.9" height="4.0" fill="#3a8fa3"/>
<text transform="translate(299.60,159.53) scale(1,1.08)" font-size="6.85" fill="#3a8fa3" text-anchor="end" >EHF(ETS)</text>
<rect x="307.40" y="162.40" width="6.50" height="4.4" fill="#333333"/>
<rect x="301.00" y="162.60" width="3.9" height="4.0" fill="#3a8fa3"/>
<text transform="translate(299.60,166.95) scale(1,1.08)" font-size="6.85" fill="#3a8fa3" text-anchor="end" >ELF4(ETS)</text>
<rect x="307.40" y="169.82" width="6.50" height="4.4" fill="#333333"/>
<rect x="301.00" y="170.02" width="3.9" height="4.0" fill="#0b5ea8"/>
<text transform="translate(299.60,174.37) scale(1,1.08)" font-size="6.85" fill="#0b5ea8" text-anchor="end" >Fra2(bZIP)</text>
<rect x="307.40" y="177.25" width="6.40" height="4.4" fill="#333333"/>
<rect x="301.00" y="177.45" width="3.9" height="4.0" fill="#0b5ea8"/>
<text transform="translate(299.60,181.80) scale(1,1.08)" font-size="6.85" fill="#0b5ea8" text-anchor="end" >Fos(bZIP)</text>
<rect x="307.40" y="184.68" width="6.10" height="4.4" fill="#333333"/>
<rect x="301.00" y="184.88" width="3.9" height="4.0" fill="#a07b72"/>
<text transform="translate(299.60,189.22) scale(1,1.08)" font-size="6.85" fill="#a07b72" text-anchor="end"  textLength="54.00" lengthAdjust="spacingAndGlyphs">PU.1:IRF8(ETS:IRF)</text>
<rect x="307.40" y="192.10" width="5.80" height="4.4" fill="#333333"/>
<rect x="301.00" y="192.30" width="3.9" height="4.0" fill="#3a8fa3"/>
<text transform="translate(299.60,196.65) scale(1,1.08)" font-size="6.85" fill="#3a8fa3" text-anchor="end" >FLI1(ETS)</text>
<rect x="307.40" y="199.53" width="5.70" height="4.4" fill="#333333"/>
<rect x="301.00" y="199.72" width="3.9" height="4.0" fill="#3a8fa3"/>
<text transform="translate(299.60,204.07) scale(1,1.08)" font-size="6.85" fill="#3a8fa3" text-anchor="end" >ETS1(ETS)</text>
<rect x="307.40" y="206.95" width="5.60" height="4.4" fill="#333333"/>
<rect x="301.00" y="207.15" width="3.9" height="4.0" fill="#0b5ea8"/>
<text transform="translate(299.60,211.50) scale(1,1.08)" font-size="6.85" fill="#0b5ea8" text-anchor="end" >BATF(bZIP)</text>
<rect x="307.40" y="214.38" width="5.60" height="4.4" fill="#333333"/>
<rect x="301.00" y="214.57" width="3.9" height="4.0" fill="#0b5ea8"/>
<text transform="translate(299.60,218.92) scale(1,1.08)" font-size="6.85" fill="#0b5ea8" text-anchor="end" >Jun−AP1(bZIP)</text>
<line x1="318.00" y1="70.70" x2="318.00" y2="221.00" stroke="#fff" stroke-opacity="0.09" stroke-width="0.8"/>
<line x1="328.60" y1="70.70" x2="328.60" y2="221.00" stroke="#fff" stroke-opacity="0.09" stroke-width="0.8"/>
<line x1="339.30" y1="70.70" x2="339.30" y2="221.00" stroke="#fff" stroke-opacity="0.09" stroke-width="0.8"/>
<line x1="305.40" y1="221.50" x2="347.80" y2="221.50" stroke="#a8a8a8" stroke-width="1"/>
<line x1="307.30" y1="222.00" x2="307.30" y2="223.50" stroke="#444" stroke-width="0.9"/>
<text x="307.30" y="231.60" font-size="6.4" fill="#333" text-anchor="middle" >0</text>
<line x1="318.00" y1="222.00" x2="318.00" y2="223.50" stroke="#444" stroke-width="0.9"/>
<text x="318.00" y="231.60" font-size="6.4" fill="#333" text-anchor="middle" >20</text>
<line x1="328.60" y1="222.00" x2="328.60" y2="223.50" stroke="#444" stroke-width="0.9"/>
<text x="328.60" y="231.60" font-size="6.4" fill="#333" text-anchor="middle" >40</text>
<line x1="339.30" y1="222.00" x2="339.30" y2="223.50" stroke="#444" stroke-width="0.9"/>
<text x="339.30" y="231.60" font-size="6.4" fill="#333" text-anchor="middle" >60</text>
<text transform="translate(326.60,242.70) scale(1,1.15)" font-size="8.0" fill="#222" text-anchor="middle" >−logP</text>
<line x1="416.20" y1="70.70" x2="416.20" y2="221.50" stroke="#e3e3e3" stroke-width="0.8"/>
<line x1="424.30" y1="70.70" x2="424.30" y2="221.50" stroke="#e3e3e3" stroke-width="0.8"/>
<line x1="432.40" y1="70.70" x2="432.40" y2="221.50" stroke="#e3e3e3" stroke-width="0.8"/>
<line x1="440.40" y1="70.70" x2="440.40" y2="221.50" stroke="#e3e3e3" stroke-width="0.8"/>
<line x1="448.50" y1="70.70" x2="448.50" y2="221.50" stroke="#e3e3e3" stroke-width="0.8"/>
<rect x="416.20" y="73.30" width="37.70" height="4.4" fill="#333333"/>
<rect x="411.00" y="73.50" width="3.4" height="4.0" fill="#3a8fa3"/>
<text transform="translate(408.10,77.85) scale(1,1.08)" font-size="6.85" fill="#3a8fa3" text-anchor="end"  textLength="54.00" lengthAdjust="spacingAndGlyphs">HoxC9(Homeobox)</text>
<rect x="416.20" y="80.72" width="35.50" height="4.4" fill="#333333"/>
<rect x="411.00" y="80.92" width="3.4" height="4.0" fill="#3a8fa3"/>
<text transform="translate(408.10,85.27) scale(1,1.08)" font-size="6.85" fill="#3a8fa3" text-anchor="end"  textLength="54.00" lengthAdjust="spacingAndGlyphs">HoxA9(Homeobox)</text>
<rect x="416.20" y="88.15" width="30.90" height="4.4" fill="#333333"/>
<rect x="411.00" y="88.35" width="3.4" height="4.0" fill="#3a8fa3"/>
<text transform="translate(408.10,92.70) scale(1,1.08)" font-size="6.85" fill="#3a8fa3" text-anchor="end"  textLength="54.00" lengthAdjust="spacingAndGlyphs">CDX4(Homeobox)</text>
<rect x="416.20" y="95.58" width="23.60" height="4.4" fill="#333333"/>
<rect x="411.00" y="95.78" width="3.4" height="4.0" fill="#3a8fa3"/>
<text transform="translate(408.10,100.12) scale(1,1.08)" font-size="6.85" fill="#3a8fa3" text-anchor="end"  textLength="54.00" lengthAdjust="spacingAndGlyphs">PBX2(Homeobox)</text>
<rect x="416.20" y="103.00" width="22.00" height="4.4" fill="#333333"/>
<rect x="411.00" y="103.20" width="3.4" height="4.0" fill="#0b5ea8"/>
<text transform="translate(408.10,107.55) scale(1,1.08)" font-size="6.85" fill="#0b5ea8" text-anchor="end" >NF1(CTF)</text>
<rect x="416.20" y="110.42" width="19.70" height="4.4" fill="#333333"/>
<rect x="411.00" y="110.62" width="3.4" height="4.0" fill="#0b5ea8"/>
<text transform="translate(408.10,114.97) scale(1,1.08)" font-size="6.85" fill="#0b5ea8" text-anchor="end"  textLength="54.00" lengthAdjust="spacingAndGlyphs">CDX2(Homeobox)</text>
<rect x="416.20" y="117.85" width="17.60" height="4.4" fill="#333333"/>
<rect x="411.00" y="118.05" width="3.4" height="4.0" fill="#3a8fa3"/>
<text transform="translate(408.10,122.40) scale(1,1.08)" font-size="6.85" fill="#3a8fa3" text-anchor="end" >RUNX(Runt)</text>
<rect x="416.20" y="125.27" width="15.30" height="4.4" fill="#333333"/>
<rect x="411.00" y="125.47" width="3.4" height="4.0" fill="#3a8fa3"/>
<text transform="translate(408.10,129.82) scale(1,1.08)" font-size="6.85" fill="#3a8fa3" text-anchor="end" >RFX(HTH)</text>
<rect x="416.20" y="132.70" width="14.80" height="4.4" fill="#333333"/>
<rect x="411.00" y="132.90" width="3.4" height="4.0" fill="#a07b72"/>
<text transform="translate(408.10,137.25) scale(1,1.08)" font-size="6.85" fill="#a07b72" text-anchor="end" >IRF3(IRF)</text>
<rect x="416.20" y="140.12" width="14.10" height="4.4" fill="#333333"/>
<rect x="411.00" y="140.32" width="3.4" height="4.0" fill="#3a8fa3"/>
<text transform="translate(408.10,144.67) scale(1,1.08)" font-size="6.85" fill="#3a8fa3" text-anchor="end"  textLength="54.00" lengthAdjust="spacingAndGlyphs">HoxD11(Homeobox)</text>
<rect x="416.20" y="147.55" width="13.90" height="4.4" fill="#333333"/>
<rect x="411.00" y="147.75" width="3.4" height="4.0" fill="#a3a3a3"/>
<text transform="translate(408.10,152.10) scale(1,1.08)" font-size="6.85" fill="#a3a3a3" text-anchor="end" >MITF(bHLH)</text>
<rect x="416.20" y="154.98" width="13.70" height="4.4" fill="#333333"/>
<rect x="411.00" y="155.18" width="3.4" height="4.0" fill="#0b5ea8"/>
<text transform="translate(408.10,159.53) scale(1,1.08)" font-size="6.85" fill="#0b5ea8" text-anchor="end"  textLength="54.00" lengthAdjust="spacingAndGlyphs">NF1:FOXA1(CTF,Forkhead)</text>
<rect x="416.20" y="162.40" width="13.70" height="4.4" fill="#333333"/>
<rect x="411.00" y="162.60" width="3.4" height="4.0" fill="#a3a3a3"/>
<text transform="translate(408.10,166.95) scale(1,1.08)" font-size="6.85" fill="#a3a3a3" text-anchor="end" >RFX1(HTH)</text>
<rect x="416.20" y="169.82" width="13.60" height="4.4" fill="#333333"/>
<rect x="411.00" y="170.02" width="3.4" height="4.0" fill="#5cc3dd"/>
<text transform="translate(408.10,174.37) scale(1,1.08)" font-size="6.85" fill="#5cc3dd" text-anchor="end"  textLength="54.00" lengthAdjust="spacingAndGlyphs">NFkB−p65−Rel(RHD)</text>
<rect x="416.20" y="177.25" width="12.80" height="4.4" fill="#333333"/>
<rect x="411.00" y="177.45" width="3.4" height="4.0" fill="#3a8fa3"/>
<text transform="translate(408.10,181.80) scale(1,1.08)" font-size="6.85" fill="#3a8fa3" text-anchor="end" >RFX2(HTH)</text>
<rect x="416.20" y="184.68" width="11.90" height="4.4" fill="#333333"/>
<rect x="411.00" y="184.88" width="3.4" height="4.0" fill="#3d3d3d"/>
<text transform="translate(408.10,189.22) scale(1,1.08)" font-size="6.85" fill="#3d3d3d" text-anchor="end" >X−box(HTH)</text>
<rect x="416.20" y="192.10" width="11.80" height="4.4" fill="#333333"/>
<rect x="411.00" y="192.30" width="3.4" height="4.0" fill="#3a8fa3"/>
<text transform="translate(408.10,196.65) scale(1,1.08)" font-size="6.85" fill="#3a8fa3" text-anchor="end"  textLength="54.00" lengthAdjust="spacingAndGlyphs">HoxB13(Homeobox)</text>
<rect x="416.20" y="199.53" width="11.80" height="4.4" fill="#333333"/>
<rect x="411.00" y="199.72" width="3.4" height="4.0" fill="#3a8fa3"/>
<text transform="translate(408.10,204.07) scale(1,1.08)" font-size="6.85" fill="#3a8fa3" text-anchor="end" >RUNX1(Runt)</text>
<rect x="416.20" y="206.95" width="11.60" height="4.4" fill="#333333"/>
<rect x="411.00" y="207.15" width="3.4" height="4.0" fill="#0b5ea8"/>
<text transform="translate(408.10,211.50) scale(1,1.08)" font-size="6.85" fill="#0b5ea8" text-anchor="end" >Pitx1(Homeobox)</text>
<rect x="416.20" y="214.38" width="11.50" height="4.4" fill="#333333"/>
<rect x="411.00" y="214.57" width="3.4" height="4.0" fill="#a3a3a3"/>
<text transform="translate(408.10,218.92) scale(1,1.08)" font-size="6.85" fill="#a3a3a3" text-anchor="end" >RFX5(HTH)</text>
<line x1="424.30" y1="70.70" x2="424.30" y2="221.00" stroke="#fff" stroke-opacity="0.09" stroke-width="0.8"/>
<line x1="432.40" y1="70.70" x2="432.40" y2="221.00" stroke="#fff" stroke-opacity="0.09" stroke-width="0.8"/>
<line x1="440.40" y1="70.70" x2="440.40" y2="221.00" stroke="#fff" stroke-opacity="0.09" stroke-width="0.8"/>
<line x1="448.50" y1="70.70" x2="448.50" y2="221.00" stroke="#fff" stroke-opacity="0.09" stroke-width="0.8"/>
<line x1="414.20" y1="221.50" x2="455.80" y2="221.50" stroke="#a8a8a8" stroke-width="1"/>
<line x1="416.20" y1="222.00" x2="416.20" y2="223.50" stroke="#444" stroke-width="0.9"/>
<text x="416.20" y="231.60" font-size="6.4" fill="#333" text-anchor="middle" >0</text>
<line x1="424.30" y1="222.00" x2="424.30" y2="223.50" stroke="#444" stroke-width="0.9"/>
<text x="424.30" y="231.60" font-size="6.4" fill="#333" text-anchor="middle" >5</text>
<line x1="432.40" y1="222.00" x2="432.40" y2="223.50" stroke="#444" stroke-width="0.9"/>
<text x="432.40" y="231.60" font-size="6.4" fill="#333" text-anchor="middle" >10</text>
<line x1="440.40" y1="222.00" x2="440.40" y2="223.50" stroke="#444" stroke-width="0.9"/>
<text x="440.40" y="231.60" font-size="6.4" fill="#333" text-anchor="middle" >15</text>
<line x1="448.50" y1="222.00" x2="448.50" y2="223.50" stroke="#444" stroke-width="0.9"/>
<text x="448.50" y="231.60" font-size="6.4" fill="#333" text-anchor="middle" >20</text>
<text transform="translate(435.00,242.70) scale(1,1.15)" font-size="8.0" fill="#222" text-anchor="middle" >−logP</text>
<line x1="532.70" y1="70.70" x2="532.70" y2="221.50" stroke="#e3e3e3" stroke-width="0.8"/>
<line x1="541.60" y1="70.70" x2="541.60" y2="221.50" stroke="#e3e3e3" stroke-width="0.8"/>
<line x1="550.60" y1="70.70" x2="550.60" y2="221.50" stroke="#e3e3e3" stroke-width="0.8"/>
<line x1="559.60" y1="70.70" x2="559.60" y2="221.50" stroke="#e3e3e3" stroke-width="0.8"/>
<line x1="568.60" y1="70.70" x2="568.60" y2="221.50" stroke="#e3e3e3" stroke-width="0.8"/>
<rect x="532.70" y="73.30" width="37.80" height="4.4" fill="#333333"/>
<rect x="527.20" y="73.50" width="3.6" height="4.0" fill="#3a8fa3"/>
<text transform="translate(524.90,77.85) scale(1,1.08)" font-size="6.85" fill="#3a8fa3" text-anchor="end" >FLI1(ETS)</text>
<rect x="532.70" y="80.72" width="37.00" height="4.4" fill="#333333"/>
<rect x="527.20" y="80.92" width="3.6" height="4.0" fill="#3a8fa3"/>
<text transform="translate(524.90,85.27) scale(1,1.08)" font-size="6.85" fill="#3a8fa3" text-anchor="end" >ETV2(ETS)</text>
<rect x="532.70" y="88.15" width="34.20" height="4.4" fill="#333333"/>
<rect x="527.20" y="88.35" width="3.6" height="4.0" fill="#3a8fa3"/>
<text transform="translate(524.90,92.70) scale(1,1.08)" font-size="6.85" fill="#3a8fa3" text-anchor="end" >ERG(ETS)</text>
<rect x="532.70" y="95.58" width="31.00" height="4.4" fill="#333333"/>
<rect x="527.20" y="95.78" width="3.6" height="4.0" fill="#0b5ea8"/>
<text transform="translate(524.90,100.12) scale(1,1.08)" font-size="6.85" fill="#0b5ea8" text-anchor="end"  textLength="54.00" lengthAdjust="spacingAndGlyphs">EWS:ERG−fusion(ETS)</text>
<rect x="532.70" y="103.00" width="30.40" height="4.4" fill="#333333"/>
<rect x="527.20" y="103.20" width="3.6" height="4.0" fill="#3a8fa3"/>
<text transform="translate(524.90,107.55) scale(1,1.08)" font-size="6.85" fill="#3a8fa3" text-anchor="end" >EHF(ETS)</text>
<rect x="532.70" y="110.42" width="28.20" height="4.4" fill="#333333"/>
<rect x="527.20" y="110.62" width="3.6" height="4.0" fill="#3a8fa3"/>
<text transform="translate(524.90,114.97) scale(1,1.08)" font-size="6.85" fill="#3a8fa3" text-anchor="end"  textLength="54.00" lengthAdjust="spacingAndGlyphs">EWS:FLI1−fusion(ETS)</text>
<rect x="532.70" y="117.85" width="27.20" height="4.4" fill="#333333"/>
<rect x="527.20" y="118.05" width="3.6" height="4.0" fill="#a3a3a3"/>
<text transform="translate(524.90,122.40) scale(1,1.08)" font-size="6.85" fill="#a3a3a3" text-anchor="end" >CTCF(Zf)</text>
<rect x="532.70" y="125.27" width="27.20" height="4.4" fill="#333333"/>
<rect x="527.20" y="125.47" width="3.6" height="4.0" fill="#3a8fa3"/>
<text transform="translate(524.90,129.82) scale(1,1.08)" font-size="6.85" fill="#3a8fa3" text-anchor="end" >ETV1(ETS)</text>
<rect x="532.70" y="132.70" width="26.50" height="4.4" fill="#333333"/>
<rect x="527.20" y="132.90" width="3.6" height="4.0" fill="#3a8fa3"/>
<text transform="translate(524.90,137.25) scale(1,1.08)" font-size="6.85" fill="#3a8fa3" text-anchor="end" >ETV4(ETS)</text>
<rect x="532.70" y="140.12" width="26.50" height="4.4" fill="#333333"/>
<rect x="527.20" y="140.32" width="3.6" height="4.0" fill="#0b5ea8"/>
<text transform="translate(524.90,144.67) scale(1,1.08)" font-size="6.85" fill="#0b5ea8" text-anchor="end" >SPDEF(ETS)</text>
<rect x="532.70" y="147.55" width="26.10" height="4.4" fill="#333333"/>
<rect x="527.20" y="147.75" width="3.6" height="4.0" fill="#3a8fa3"/>
<text transform="translate(524.90,152.10) scale(1,1.08)" font-size="6.85" fill="#3a8fa3" text-anchor="end" >ETS1(ETS)</text>
<rect x="532.70" y="154.98" width="25.30" height="4.4" fill="#333333"/>
<rect x="527.20" y="155.18" width="3.6" height="4.0" fill="#3a8fa3"/>
<text transform="translate(524.90,159.53) scale(1,1.08)" font-size="6.85" fill="#3a8fa3" text-anchor="end" >ELF3(ETS)</text>
<rect x="532.70" y="162.40" width="24.10" height="4.4" fill="#333333"/>
<rect x="527.20" y="162.60" width="3.6" height="4.0" fill="#3a8fa3"/>
<text transform="translate(524.90,166.95) scale(1,1.08)" font-size="6.85" fill="#3a8fa3" text-anchor="end" >GABPA(ETS)</text>
<rect x="532.70" y="169.82" width="18.40" height="4.4" fill="#333333"/>
<rect x="527.20" y="170.02" width="3.6" height="4.0" fill="#a3a3a3"/>
<text transform="translate(524.90,174.37) scale(1,1.08)" font-size="6.85" fill="#a3a3a3" text-anchor="end" >BORIS(Zf)</text>
<rect x="532.70" y="177.25" width="18.10" height="4.4" fill="#333333"/>
<rect x="527.20" y="177.45" width="3.6" height="4.0" fill="#939313"/>
<text transform="translate(524.90,181.80) scale(1,1.08)" font-size="6.85" fill="#939313" text-anchor="end" >ELF1(ETS)</text>
<rect x="532.70" y="184.68" width="18.10" height="4.4" fill="#333333"/>
<rect x="527.20" y="184.88" width="3.6" height="4.0" fill="#3a8fa3"/>
<text transform="translate(524.90,189.22) scale(1,1.08)" font-size="6.85" fill="#3a8fa3" text-anchor="end" >ELF4(ETS)</text>
<rect x="532.70" y="192.10" width="17.10" height="4.4" fill="#333333"/>
<rect x="527.20" y="192.30" width="3.6" height="4.0" fill="#a3a3a3"/>
<text transform="translate(524.90,196.65) scale(1,1.08)" font-size="6.85" fill="#a3a3a3" text-anchor="end" >ELK1(ETS)</text>
<rect x="532.70" y="199.53" width="15.10" height="4.4" fill="#333333"/>
<rect x="527.20" y="199.72" width="3.6" height="4.0" fill="#a3a3a3"/>
<text transform="translate(524.90,204.07) scale(1,1.08)" font-size="6.85" fill="#a3a3a3" text-anchor="end" >ELK4(ETS)</text>
<rect x="532.70" y="206.95" width="14.20" height="4.4" fill="#333333"/>
<rect x="527.20" y="207.15" width="3.6" height="4.0" fill="#939313"/>
<text transform="translate(524.90,211.50) scale(1,1.08)" font-size="6.85" fill="#939313" text-anchor="end" >ETS(ETS)</text>
<rect x="532.70" y="214.38" width="13.90" height="4.4" fill="#333333"/>
<rect x="527.20" y="214.57" width="3.6" height="4.0" fill="#a3a3a3"/>
<text transform="translate(524.90,218.92) scale(1,1.08)" font-size="6.85" fill="#a3a3a3" text-anchor="end" >ESRRb(NR)</text>
<line x1="541.60" y1="70.70" x2="541.60" y2="221.00" stroke="#fff" stroke-opacity="0.09" stroke-width="0.8"/>
<line x1="550.60" y1="70.70" x2="550.60" y2="221.00" stroke="#fff" stroke-opacity="0.09" stroke-width="0.8"/>
<line x1="559.60" y1="70.70" x2="559.60" y2="221.00" stroke="#fff" stroke-opacity="0.09" stroke-width="0.8"/>
<line x1="568.60" y1="70.70" x2="568.60" y2="221.00" stroke="#fff" stroke-opacity="0.09" stroke-width="0.8"/>
<line x1="530.30" y1="221.50" x2="572.60" y2="221.50" stroke="#a8a8a8" stroke-width="1"/>
<line x1="532.70" y1="222.00" x2="532.70" y2="223.50" stroke="#444" stroke-width="0.9"/>
<text x="532.70" y="231.60" font-size="6.4" fill="#333" text-anchor="middle" >0</text>
<line x1="541.60" y1="222.00" x2="541.60" y2="223.50" stroke="#444" stroke-width="0.9"/>
<text x="541.60" y="231.60" font-size="6.4" fill="#333" text-anchor="middle" >5</text>
<line x1="550.60" y1="222.00" x2="550.60" y2="223.50" stroke="#444" stroke-width="0.9"/>
<text x="550.60" y="231.60" font-size="6.4" fill="#333" text-anchor="middle" >10</text>
<line x1="559.60" y1="222.00" x2="559.60" y2="223.50" stroke="#444" stroke-width="0.9"/>
<text x="559.60" y="231.60" font-size="6.4" fill="#333" text-anchor="middle" >15</text>
<line x1="568.60" y1="222.00" x2="568.60" y2="223.50" stroke="#444" stroke-width="0.9"/>
<text x="568.60" y="231.60" font-size="6.4" fill="#333" text-anchor="middle" >20</text>
<text transform="translate(551.45,242.70) scale(1,1.15)" font-size="8.0" fill="#222" text-anchor="middle" >−logP</text>
<line x1="645.00" y1="70.70" x2="645.00" y2="221.50" stroke="#e3e3e3" stroke-width="0.8"/>
<line x1="656.40" y1="70.70" x2="656.40" y2="221.50" stroke="#e3e3e3" stroke-width="0.8"/>
<line x1="667.70" y1="70.70" x2="667.70" y2="221.50" stroke="#e3e3e3" stroke-width="0.8"/>
<line x1="679.00" y1="70.70" x2="679.00" y2="221.50" stroke="#e3e3e3" stroke-width="0.8"/>
<rect x="645.00" y="73.30" width="37.80" height="4.4" fill="#333333"/>
<rect x="639.30" y="73.50" width="3.8" height="4.0" fill="#a07b72"/>
<text transform="translate(637.00,77.85) scale(1,1.08)" font-size="6.85" fill="#a07b72" text-anchor="end" >E2A(bHLH)</text>
<rect x="645.00" y="80.72" width="37.80" height="4.4" fill="#333333"/>
<rect x="639.30" y="80.92" width="3.8" height="4.0" fill="#a07b72"/>
<text transform="translate(637.00,85.27) scale(1,1.08)" font-size="6.85" fill="#a07b72" text-anchor="end" >Ascl1(bHLH)</text>
<rect x="645.00" y="88.15" width="35.70" height="4.4" fill="#333333"/>
<rect x="639.30" y="88.35" width="3.8" height="4.0" fill="#a07b72"/>
<text transform="translate(637.00,92.70) scale(1,1.08)" font-size="6.85" fill="#a07b72" text-anchor="end" >HEB(bHLH)</text>
<rect x="645.00" y="95.58" width="34.30" height="4.4" fill="#333333"/>
<rect x="639.30" y="95.78" width="3.8" height="4.0" fill="#a07b72"/>
<text transform="translate(637.00,100.12) scale(1,1.08)" font-size="6.85" fill="#a07b72" text-anchor="end" >Ascl2(bHLH)</text>
<rect x="645.00" y="103.00" width="34.00" height="4.4" fill="#333333"/>
<rect x="639.30" y="103.20" width="3.8" height="4.0" fill="#a07b72"/>
<text transform="translate(637.00,107.55) scale(1,1.08)" font-size="6.85" fill="#a07b72" text-anchor="end" >Ptf1a(bHLH)</text>
<rect x="645.00" y="110.42" width="30.20" height="4.4" fill="#333333"/>
<rect x="639.30" y="110.62" width="3.8" height="4.0" fill="#a07b72"/>
<text transform="translate(637.00,114.97) scale(1,1.08)" font-size="6.85" fill="#a07b72" text-anchor="end" >Snail1(Zf)</text>
<rect x="645.00" y="117.85" width="26.70" height="4.4" fill="#333333"/>
<rect x="639.30" y="118.05" width="3.8" height="4.0" fill="#a07b72"/>
<text transform="translate(637.00,122.40) scale(1,1.08)" font-size="6.85" fill="#a07b72" text-anchor="end" >Slug(Zf)</text>
<rect x="645.00" y="125.27" width="25.90" height="4.4" fill="#333333"/>
<rect x="639.30" y="125.47" width="3.8" height="4.0" fill="#a07b72"/>
<text transform="translate(637.00,129.82) scale(1,1.08)" font-size="6.85" fill="#a07b72" text-anchor="end"  textLength="54.00" lengthAdjust="spacingAndGlyphs">E2A(bHLH),near_PU.1</text>
<rect x="645.00" y="132.70" width="25.20" height="4.4" fill="#333333"/>
<rect x="639.30" y="132.90" width="3.8" height="4.0" fill="#a07b72"/>
<text transform="translate(637.00,137.25) scale(1,1.08)" font-size="6.85" fill="#a07b72" text-anchor="end" >Twist2(bHLH)</text>
<rect x="645.00" y="140.12" width="23.10" height="4.4" fill="#333333"/>
<rect x="639.30" y="140.32" width="3.8" height="4.0" fill="#a07b72"/>
<text transform="translate(637.00,144.67) scale(1,1.08)" font-size="6.85" fill="#a07b72" text-anchor="end" >EBF2(EBF)</text>
<rect x="645.00" y="147.55" width="20.80" height="4.4" fill="#333333"/>
<rect x="639.30" y="147.75" width="3.8" height="4.0" fill="#a07b72"/>
<text transform="translate(637.00,152.10) scale(1,1.08)" font-size="6.85" fill="#a07b72" text-anchor="end" >TCF21(bHLH)</text>
<rect x="645.00" y="154.98" width="20.00" height="4.4" fill="#333333"/>
<rect x="639.30" y="155.18" width="3.8" height="4.0" fill="#a07b72"/>
<text transform="translate(637.00,159.53) scale(1,1.08)" font-size="6.85" fill="#a07b72" text-anchor="end" >TCF4(bHLH)</text>
<rect x="645.00" y="162.40" width="20.00" height="4.4" fill="#333333"/>
<rect x="639.30" y="162.60" width="3.8" height="4.0" fill="#a07b72"/>
<text transform="translate(637.00,166.95) scale(1,1.08)" font-size="6.85" fill="#a07b72" text-anchor="end" >BHLHA15(bHLH)</text>
<rect x="645.00" y="169.82" width="20.00" height="4.4" fill="#333333"/>
<rect x="639.30" y="170.02" width="3.8" height="4.0" fill="#a07b72"/>
<text transform="translate(637.00,174.37) scale(1,1.08)" font-size="6.85" fill="#a07b72" text-anchor="end" >MyoG(bHLH)</text>
<rect x="645.00" y="177.25" width="20.00" height="4.4" fill="#333333"/>
<rect x="639.30" y="177.45" width="3.8" height="4.0" fill="#a07b72"/>
<text transform="translate(637.00,181.80) scale(1,1.08)" font-size="6.85" fill="#a07b72" text-anchor="end" >IRF3(IRF)</text>
<rect x="645.00" y="184.68" width="17.80" height="4.4" fill="#333333"/>
<rect x="639.30" y="184.88" width="3.8" height="4.0" fill="#a07b72"/>
<text transform="translate(637.00,189.22) scale(1,1.08)" font-size="6.85" fill="#a07b72" text-anchor="end" >ZEB1(Zf)</text>
<rect x="645.00" y="192.10" width="17.50" height="4.4" fill="#333333"/>
<rect x="639.30" y="192.30" width="3.8" height="4.0" fill="#a07b72"/>
<text transform="translate(637.00,196.65) scale(1,1.08)" font-size="6.85" fill="#a07b72" text-anchor="end" >NeuroD1(bHLH)</text>
<rect x="645.00" y="199.53" width="17.00" height="4.4" fill="#333333"/>
<rect x="639.30" y="199.72" width="3.8" height="4.0" fill="#a07b72"/>
<text transform="translate(637.00,204.07) scale(1,1.08)" font-size="6.85" fill="#a07b72" text-anchor="end" >Myf5(bHLH)</text>
<rect x="645.00" y="206.95" width="16.70" height="4.4" fill="#333333"/>
<rect x="639.30" y="207.15" width="3.8" height="4.0" fill="#a07b72"/>
<text transform="translate(637.00,211.50) scale(1,1.08)" font-size="6.85" fill="#a07b72" text-anchor="end" >TCF12(bHLH)</text>
<rect x="645.00" y="214.38" width="15.50" height="4.4" fill="#333333"/>
<rect x="639.30" y="214.57" width="3.8" height="4.0" fill="#a07b72"/>
<text transform="translate(637.00,218.92) scale(1,1.08)" font-size="6.85" fill="#a07b72" text-anchor="end" >Atoh1(bHLH)</text>
<line x1="656.40" y1="70.70" x2="656.40" y2="221.00" stroke="#fff" stroke-opacity="0.09" stroke-width="0.8"/>
<line x1="667.70" y1="70.70" x2="667.70" y2="221.00" stroke="#fff" stroke-opacity="0.09" stroke-width="0.8"/>
<line x1="679.00" y1="70.70" x2="679.00" y2="221.00" stroke="#fff" stroke-opacity="0.09" stroke-width="0.8"/>
<line x1="643.00" y1="221.50" x2="685.50" y2="221.50" stroke="#a8a8a8" stroke-width="1"/>
<line x1="645.00" y1="222.00" x2="645.00" y2="223.50" stroke="#444" stroke-width="0.9"/>
<text x="645.00" y="231.60" font-size="6.4" fill="#333" text-anchor="middle" >0</text>
<line x1="656.40" y1="222.00" x2="656.40" y2="223.50" stroke="#444" stroke-width="0.9"/>
<text x="656.40" y="231.60" font-size="6.4" fill="#333" text-anchor="middle" >10</text>
<line x1="667.70" y1="222.00" x2="667.70" y2="223.50" stroke="#444" stroke-width="0.9"/>
<text x="667.70" y="231.60" font-size="6.4" fill="#333" text-anchor="middle" >20</text>
<line x1="679.00" y1="222.00" x2="679.00" y2="223.50" stroke="#444" stroke-width="0.9"/>
<text x="679.00" y="231.60" font-size="6.4" fill="#333" text-anchor="middle" >30</text>
<text transform="translate(664.25,242.70) scale(1,1.15)" font-size="8.0" fill="#222" text-anchor="middle" >−logP</text>
<line x1="307.10" y1="346.10" x2="307.10" y2="496.50" stroke="#e3e3e3" stroke-width="0.8"/>
<line x1="318.30" y1="346.10" x2="318.30" y2="496.50" stroke="#e3e3e3" stroke-width="0.8"/>
<line x1="329.40" y1="346.10" x2="329.40" y2="496.50" stroke="#e3e3e3" stroke-width="0.8"/>
<line x1="340.50" y1="346.10" x2="340.50" y2="496.50" stroke="#e3e3e3" stroke-width="0.8"/>
<rect x="307.10" y="348.80" width="37.80" height="4.4" fill="#333333"/>
<rect x="301.10" y="349.00" width="4.0" height="4.0" fill="#0b5ea8"/>
<text transform="translate(299.40,353.35) scale(1,1.08)" font-size="6.85" fill="#0b5ea8" text-anchor="end" >Fra1(bZIP)</text>
<rect x="307.10" y="356.23" width="36.90" height="4.4" fill="#333333"/>
<rect x="301.10" y="356.43" width="4.0" height="4.0" fill="#0b5ea8"/>
<text transform="translate(299.40,360.78) scale(1,1.08)" font-size="6.85" fill="#0b5ea8" text-anchor="end" >Atf3(bZIP)</text>
<rect x="307.10" y="363.65" width="36.20" height="4.4" fill="#333333"/>
<rect x="301.10" y="363.85" width="4.0" height="4.0" fill="#0b5ea8"/>
<text transform="translate(299.40,368.20) scale(1,1.08)" font-size="6.85" fill="#0b5ea8" text-anchor="end" >JunB(bZIP)</text>
<rect x="307.10" y="371.07" width="34.00" height="4.4" fill="#333333"/>
<rect x="301.10" y="371.27" width="4.0" height="4.0" fill="#0b5ea8"/>
<text transform="translate(299.40,375.62) scale(1,1.08)" font-size="6.85" fill="#0b5ea8" text-anchor="end" >AP−1(bZIP)</text>
<rect x="307.10" y="378.50" width="34.00" height="4.4" fill="#333333"/>
<rect x="301.10" y="378.70" width="4.0" height="4.0" fill="#0b5ea8"/>
<text transform="translate(299.40,383.05) scale(1,1.08)" font-size="6.85" fill="#0b5ea8" text-anchor="end" >BATF(bZIP)</text>
<rect x="307.10" y="385.93" width="32.90" height="4.4" fill="#333333"/>
<rect x="301.10" y="386.12" width="4.0" height="4.0" fill="#0b5ea8"/>
<text transform="translate(299.40,390.48) scale(1,1.08)" font-size="6.85" fill="#0b5ea8" text-anchor="end" >Fra2(bZIP)</text>
<rect x="307.10" y="393.35" width="31.00" height="4.4" fill="#333333"/>
<rect x="301.10" y="393.55" width="4.0" height="4.0" fill="#0b5ea8"/>
<text transform="translate(299.40,397.90) scale(1,1.08)" font-size="6.85" fill="#0b5ea8" text-anchor="end" >Fos(bZIP)</text>
<rect x="307.10" y="400.78" width="28.10" height="4.4" fill="#333333"/>
<rect x="301.10" y="400.98" width="4.0" height="4.0" fill="#0b5ea8"/>
<text transform="translate(299.40,405.33) scale(1,1.08)" font-size="6.85" fill="#0b5ea8" text-anchor="end" >Fosl2(bZIP)</text>
<rect x="307.10" y="408.20" width="19.40" height="4.4" fill="#333333"/>
<rect x="301.10" y="408.40" width="4.0" height="4.0" fill="#0b5ea8"/>
<text transform="translate(299.40,412.75) scale(1,1.08)" font-size="6.85" fill="#0b5ea8" text-anchor="end" >Jun−AP1(bZIP)</text>
<rect x="307.10" y="415.62" width="10.80" height="4.4" fill="#333333"/>
<rect x="301.10" y="415.82" width="4.0" height="4.0" fill="#3f8f1c"/>
<text transform="translate(299.40,420.18) scale(1,1.08)" font-size="6.85" fill="#3f8f1c" text-anchor="end" >HLF(bZIP)</text>
<rect x="307.10" y="423.05" width="7.90" height="4.4" fill="#333333"/>
<rect x="301.10" y="423.25" width="4.0" height="4.0" fill="#0b5ea8"/>
<text transform="translate(299.40,427.60) scale(1,1.08)" font-size="6.85" fill="#0b5ea8" text-anchor="end" >Bach2(bZIP)</text>
<rect x="307.10" y="430.48" width="7.90" height="4.4" fill="#333333"/>
<rect x="301.10" y="430.68" width="4.0" height="4.0" fill="#3f8f1c"/>
<text transform="translate(299.40,435.03) scale(1,1.08)" font-size="6.85" fill="#3f8f1c" text-anchor="end" >CEBP(bZIP)</text>
<rect x="307.10" y="437.90" width="6.70" height="4.4" fill="#333333"/>
<rect x="301.10" y="438.10" width="4.0" height="4.0" fill="#a3a3a3"/>
<text transform="translate(299.40,442.45) scale(1,1.08)" font-size="6.85" fill="#a3a3a3" text-anchor="end"  textLength="54.00" lengthAdjust="spacingAndGlyphs">CEBP:CEBP(bZIP)</text>
<rect x="307.10" y="445.32" width="4.90" height="4.4" fill="#333333"/>
<rect x="301.10" y="445.52" width="4.0" height="4.0" fill="#a3a3a3"/>
<text transform="translate(299.40,449.88) scale(1,1.08)" font-size="6.85" fill="#a3a3a3" text-anchor="end"  textLength="54.00" lengthAdjust="spacingAndGlyphs">FOXM1(Forkhead)</text>
<rect x="307.10" y="452.75" width="4.90" height="4.4" fill="#333333"/>
<rect x="301.10" y="452.95" width="4.0" height="4.0" fill="#3f8f1c"/>
<text transform="translate(299.40,457.30) scale(1,1.08)" font-size="6.85" fill="#3f8f1c" text-anchor="end" >NFIL3(bZIP)</text>
<rect x="307.10" y="460.18" width="4.90" height="4.4" fill="#333333"/>
<rect x="301.10" y="460.38" width="4.0" height="4.0" fill="#a3a3a3"/>
<text transform="translate(299.40,464.73) scale(1,1.08)" font-size="6.85" fill="#a3a3a3" text-anchor="end"  textLength="54.00" lengthAdjust="spacingAndGlyphs">FOXA1(Forkhead)_MCF7</text>
<rect x="307.10" y="467.60" width="4.60" height="4.4" fill="#333333"/>
<rect x="301.10" y="467.80" width="4.0" height="4.0" fill="#a3a3a3"/>
<text transform="translate(299.40,472.15) scale(1,1.08)" font-size="6.85" fill="#a3a3a3" text-anchor="end"  textLength="54.00" lengthAdjust="spacingAndGlyphs">FOXA2(Forkhead)</text>
<rect x="307.10" y="475.03" width="4.50" height="4.4" fill="#333333"/>
<rect x="301.10" y="475.23" width="4.0" height="4.0" fill="#3f8f1c"/>
<text transform="translate(299.40,479.58) scale(1,1.08)" font-size="6.85" fill="#3f8f1c" text-anchor="end" >Chop(bZIP)</text>
<rect x="307.10" y="482.45" width="4.50" height="4.4" fill="#333333"/>
<rect x="301.10" y="482.65" width="4.0" height="4.0" fill="#a3a3a3"/>
<text transform="translate(299.40,487.00) scale(1,1.08)" font-size="6.85" fill="#a3a3a3" text-anchor="end"  textLength="54.00" lengthAdjust="spacingAndGlyphs">PU.1:IRF8(ETS:IRF)</text>
<rect x="307.10" y="489.88" width="4.50" height="4.4" fill="#333333"/>
<rect x="301.10" y="490.07" width="4.0" height="4.0" fill="#0b5ea8"/>
<text transform="translate(299.40,494.43) scale(1,1.08)" font-size="6.85" fill="#0b5ea8" text-anchor="end" >NF−E2(bZIP)</text>
<line x1="318.30" y1="346.10" x2="318.30" y2="496.00" stroke="#fff" stroke-opacity="0.09" stroke-width="0.8"/>
<line x1="329.40" y1="346.10" x2="329.40" y2="496.00" stroke="#fff" stroke-opacity="0.09" stroke-width="0.8"/>
<line x1="340.50" y1="346.10" x2="340.50" y2="496.00" stroke="#fff" stroke-opacity="0.09" stroke-width="0.8"/>
<line x1="305.10" y1="496.50" x2="347.10" y2="496.50" stroke="#555" stroke-width="1"/>
<line x1="307.10" y1="497.00" x2="307.10" y2="498.50" stroke="#aaa" stroke-width="0.9"/>
<text x="307.10" y="506.90" font-size="6.4" fill="#333" text-anchor="middle" >0</text>
<line x1="318.30" y1="497.00" x2="318.30" y2="498.50" stroke="#aaa" stroke-width="0.9"/>
<text x="318.30" y="506.90" font-size="6.4" fill="#333" text-anchor="middle" >10</text>
<line x1="329.40" y1="497.00" x2="329.40" y2="498.50" stroke="#aaa" stroke-width="0.9"/>
<text x="329.40" y="506.90" font-size="6.4" fill="#333" text-anchor="middle" >20</text>
<line x1="340.50" y1="497.00" x2="340.50" y2="498.50" stroke="#aaa" stroke-width="0.9"/>
<text x="340.50" y="506.90" font-size="6.4" fill="#333" text-anchor="middle" >30</text>
<text transform="translate(326.10,516.30) scale(1,1.15)" font-size="8.0" fill="#222" text-anchor="middle" >−logP</text>
<line x1="414.30" y1="346.10" x2="414.30" y2="496.50" stroke="#e3e3e3" stroke-width="0.8"/>
<line x1="421.90" y1="346.10" x2="421.90" y2="496.50" stroke="#e3e3e3" stroke-width="0.8"/>
<line x1="429.50" y1="346.10" x2="429.50" y2="496.50" stroke="#e3e3e3" stroke-width="0.8"/>
<line x1="437.10" y1="346.10" x2="437.10" y2="496.50" stroke="#e3e3e3" stroke-width="0.8"/>
<line x1="444.70" y1="346.10" x2="444.70" y2="496.50" stroke="#e3e3e3" stroke-width="0.8"/>
<line x1="452.30" y1="346.10" x2="452.30" y2="496.50" stroke="#e3e3e3" stroke-width="0.8"/>
<rect x="414.30" y="348.80" width="36.60" height="4.4" fill="#333333"/>
<rect x="408.90" y="349.00" width="3.9" height="4.0" fill="#a3a3a3"/>
<text transform="translate(406.50,353.35) scale(1,1.08)" font-size="6.85" fill="#a3a3a3" text-anchor="end" >BHLHA15(bHLH)</text>
<rect x="414.30" y="356.23" width="35.60" height="4.4" fill="#333333"/>
<rect x="408.90" y="356.43" width="3.9" height="4.0" fill="#a3a3a3"/>
<text transform="translate(406.50,360.78) scale(1,1.08)" font-size="6.85" fill="#a3a3a3" text-anchor="end" >NeuroG2(bHLH)</text>
<rect x="414.30" y="363.65" width="35.00" height="4.4" fill="#333333"/>
<rect x="408.90" y="363.85" width="3.9" height="4.0" fill="#a3a3a3"/>
<text transform="translate(406.50,368.20) scale(1,1.08)" font-size="6.85" fill="#a3a3a3" text-anchor="end" >Twist2(bHLH)</text>
<rect x="414.30" y="371.07" width="32.30" height="4.4" fill="#333333"/>
<rect x="408.90" y="371.27" width="3.9" height="4.0" fill="#a3a3a3"/>
<text transform="translate(406.50,375.62) scale(1,1.08)" font-size="6.85" fill="#a3a3a3" text-anchor="end" >NeuroD1(bHLH)</text>
<rect x="414.30" y="378.50" width="29.70" height="4.4" fill="#333333"/>
<rect x="408.90" y="378.70" width="3.9" height="4.0" fill="#a07b72"/>
<text transform="translate(406.50,383.05) scale(1,1.08)" font-size="6.85" fill="#a07b72" text-anchor="end" >E2A(bHLH)</text>
<rect x="414.30" y="385.93" width="29.70" height="4.4" fill="#333333"/>
<rect x="408.90" y="386.12" width="3.9" height="4.0" fill="#a3a3a3"/>
<text transform="translate(406.50,390.48) scale(1,1.08)" font-size="6.85" fill="#a3a3a3" text-anchor="end" >TCF4(bHLH)</text>
<rect x="414.30" y="393.35" width="29.70" height="4.4" fill="#333333"/>
<rect x="408.90" y="393.55" width="3.9" height="4.0" fill="#a3a3a3"/>
<text transform="translate(406.50,397.90) scale(1,1.08)" font-size="6.85" fill="#a3a3a3" text-anchor="end" >TCF21(bHLH)</text>
<rect x="414.30" y="400.78" width="29.60" height="4.4" fill="#333333"/>
<rect x="408.90" y="400.98" width="3.9" height="4.0" fill="#a3a3a3"/>
<text transform="translate(406.50,405.33) scale(1,1.08)" font-size="6.85" fill="#a3a3a3" text-anchor="end" >Olig2(bHLH)</text>
<rect x="414.30" y="408.20" width="29.00" height="4.4" fill="#333333"/>
<rect x="408.90" y="408.40" width="3.9" height="4.0" fill="#a3a3a3"/>
<text transform="translate(406.50,412.75) scale(1,1.08)" font-size="6.85" fill="#a07b72" text-anchor="end" >Ptf1a(bHLH)</text>
<rect x="414.30" y="415.62" width="26.60" height="4.4" fill="#333333"/>
<rect x="408.90" y="415.82" width="3.9" height="4.0" fill="#a07b72"/>
<text transform="translate(406.50,420.18) scale(1,1.08)" font-size="6.85" fill="#a3a3a3" text-anchor="end" >TCF12(bHLH)</text>
<rect x="414.30" y="423.05" width="26.40" height="4.4" fill="#333333"/>
<rect x="408.90" y="423.25" width="3.9" height="4.0" fill="#a3a3a3"/>
<text transform="translate(406.50,427.60) scale(1,1.08)" font-size="6.85" fill="#a3a3a3" text-anchor="end" >SCL(bHLH)</text>
<rect x="414.30" y="430.48" width="25.50" height="4.4" fill="#333333"/>
<rect x="408.90" y="430.68" width="3.9" height="4.0" fill="#a07b72"/>
<text transform="translate(406.50,435.03) scale(1,1.08)" font-size="6.85" fill="#a07b72" text-anchor="end" >Ascl1(bHLH)</text>
<rect x="414.30" y="437.90" width="24.80" height="4.4" fill="#333333"/>
<rect x="408.90" y="438.10" width="3.9" height="4.0" fill="#a3a3a3"/>
<text transform="translate(406.50,442.45) scale(1,1.08)" font-size="6.85" fill="#a3a3a3" text-anchor="end"  textLength="54.00" lengthAdjust="spacingAndGlyphs">PBX2(Homeobox)</text>
<rect x="414.30" y="445.32" width="24.80" height="4.4" fill="#333333"/>
<rect x="408.90" y="445.52" width="3.9" height="4.0" fill="#a07b72"/>
<text transform="translate(406.50,449.88) scale(1,1.08)" font-size="6.85" fill="#a07b72" text-anchor="end" >HEB(bHLH)</text>
<rect x="414.30" y="452.75" width="23.40" height="4.4" fill="#333333"/>
<rect x="408.90" y="452.95" width="3.9" height="4.0" fill="#a3a3a3"/>
<text transform="translate(406.50,457.30) scale(1,1.08)" font-size="6.85" fill="#a3a3a3" text-anchor="end" >RFX(HTH)</text>
<rect x="414.30" y="460.18" width="22.50" height="4.4" fill="#333333"/>
<rect x="408.90" y="460.38" width="3.9" height="4.0" fill="#a3a3a3"/>
<text transform="translate(406.50,464.73) scale(1,1.08)" font-size="6.85" fill="#a3a3a3" text-anchor="end" >Atoh1(bHLH)</text>
<rect x="414.30" y="467.60" width="21.60" height="4.4" fill="#333333"/>
<rect x="408.90" y="467.80" width="3.9" height="4.0" fill="#a3a3a3"/>
<text transform="translate(406.50,472.15) scale(1,1.08)" font-size="6.85" fill="#a3a3a3" text-anchor="end" >RFX1(HTH)</text>
<rect x="414.30" y="475.03" width="20.70" height="4.4" fill="#333333"/>
<rect x="408.90" y="475.23" width="3.9" height="4.0" fill="#a3a3a3"/>
<text transform="translate(406.50,479.58) scale(1,1.08)" font-size="6.85" fill="#a3a3a3" text-anchor="end" >RFX2(HTH)</text>
<rect x="414.30" y="482.45" width="18.60" height="4.4" fill="#333333"/>
<rect x="408.90" y="482.65" width="3.9" height="4.0" fill="#a3a3a3"/>
<text transform="translate(406.50,487.00) scale(1,1.08)" font-size="6.85" fill="#a3a3a3" text-anchor="end" >TEAD4(TEA)</text>
<rect x="414.30" y="489.88" width="18.50" height="4.4" fill="#333333"/>
<rect x="408.90" y="490.07" width="3.9" height="4.0" fill="#a3a3a3"/>
<text transform="translate(406.50,494.43) scale(1,1.08)" font-size="6.85" fill="#a3a3a3" text-anchor="end" >Ap4(bHLH)</text>
<line x1="421.90" y1="346.10" x2="421.90" y2="496.00" stroke="#fff" stroke-opacity="0.09" stroke-width="0.8"/>
<line x1="429.50" y1="346.10" x2="429.50" y2="496.00" stroke="#fff" stroke-opacity="0.09" stroke-width="0.8"/>
<line x1="437.10" y1="346.10" x2="437.10" y2="496.00" stroke="#fff" stroke-opacity="0.09" stroke-width="0.8"/>
<line x1="444.70" y1="346.10" x2="444.70" y2="496.00" stroke="#fff" stroke-opacity="0.09" stroke-width="0.8"/>
<line x1="452.30" y1="346.10" x2="452.30" y2="496.00" stroke="#fff" stroke-opacity="0.09" stroke-width="0.8"/>
<line x1="412.00" y1="496.50" x2="454.00" y2="496.50" stroke="#555" stroke-width="1"/>
<line x1="414.30" y1="497.00" x2="414.30" y2="498.50" stroke="#aaa" stroke-width="0.9"/>
<text x="414.30" y="506.90" font-size="6.4" fill="#333" text-anchor="middle" >0</text>
<line x1="421.90" y1="497.00" x2="421.90" y2="498.50" stroke="#aaa" stroke-width="0.9"/>
<text x="421.90" y="506.90" font-size="6.4" fill="#333" text-anchor="middle" >2</text>
<line x1="429.50" y1="497.00" x2="429.50" y2="498.50" stroke="#aaa" stroke-width="0.9"/>
<text x="429.50" y="506.90" font-size="6.4" fill="#333" text-anchor="middle" >4</text>
<line x1="437.10" y1="497.00" x2="437.10" y2="498.50" stroke="#aaa" stroke-width="0.9"/>
<text x="437.10" y="506.90" font-size="6.4" fill="#333" text-anchor="middle" >6</text>
<line x1="444.70" y1="497.00" x2="444.70" y2="498.50" stroke="#aaa" stroke-width="0.9"/>
<text x="444.70" y="506.90" font-size="6.4" fill="#333" text-anchor="middle" >8</text>
<line x1="452.30" y1="497.00" x2="452.30" y2="498.50" stroke="#aaa" stroke-width="0.9"/>
<text x="452.30" y="506.90" font-size="6.4" fill="#333" text-anchor="middle" >10</text>
<text transform="translate(433.00,516.30) scale(1,1.15)" font-size="8.0" fill="#222" text-anchor="middle" >−logP</text>
<line x1="533.00" y1="346.10" x2="533.00" y2="496.50" stroke="#e3e3e3" stroke-width="0.8"/>
<line x1="540.90" y1="346.10" x2="540.90" y2="496.50" stroke="#e3e3e3" stroke-width="0.8"/>
<line x1="548.80" y1="346.10" x2="548.80" y2="496.50" stroke="#e3e3e3" stroke-width="0.8"/>
<line x1="556.70" y1="346.10" x2="556.70" y2="496.50" stroke="#e3e3e3" stroke-width="0.8"/>
<line x1="564.60" y1="346.10" x2="564.60" y2="496.50" stroke="#e3e3e3" stroke-width="0.8"/>
<rect x="533.00" y="348.80" width="37.90" height="4.4" fill="#333333"/>
<rect x="527.20" y="349.00" width="3.9" height="4.0" fill="#0b5ea8"/>
<text transform="translate(525.20,353.35) scale(1,1.08)" font-size="6.85" fill="#0b5ea8" text-anchor="end" >AP−1(bZIP)</text>
<rect x="533.00" y="356.23" width="36.00" height="4.4" fill="#333333"/>
<rect x="527.20" y="356.43" width="3.9" height="4.0" fill="#0b5ea8"/>
<text transform="translate(525.20,360.78) scale(1,1.08)" font-size="6.85" fill="#0b5ea8" text-anchor="end" >Fra1(bZIP)</text>
<rect x="533.00" y="363.65" width="35.00" height="4.4" fill="#333333"/>
<rect x="527.20" y="363.85" width="3.9" height="4.0" fill="#0b5ea8"/>
<text transform="translate(525.20,368.20) scale(1,1.08)" font-size="6.85" fill="#0b5ea8" text-anchor="end" >Atf3(bZIP)</text>
<rect x="533.00" y="371.07" width="35.00" height="4.4" fill="#333333"/>
<rect x="527.20" y="371.27" width="3.9" height="4.0" fill="#0b5ea8"/>
<text transform="translate(525.20,375.62) scale(1,1.08)" font-size="6.85" fill="#0b5ea8" text-anchor="end" >BATF(bZIP)</text>
<rect x="533.00" y="378.50" width="34.50" height="4.4" fill="#333333"/>
<rect x="527.20" y="378.70" width="3.9" height="4.0" fill="#0b5ea8"/>
<text transform="translate(525.20,383.05) scale(1,1.08)" font-size="6.85" fill="#0b5ea8" text-anchor="end" >JunB(bZIP)</text>
<rect x="533.00" y="385.93" width="33.50" height="4.4" fill="#333333"/>
<rect x="527.20" y="386.12" width="3.9" height="4.0" fill="#0b5ea8"/>
<text transform="translate(525.20,390.48) scale(1,1.08)" font-size="6.85" fill="#0b5ea8" text-anchor="end" >Fos(bZIP)</text>
<rect x="533.00" y="393.35" width="31.90" height="4.4" fill="#333333"/>
<rect x="527.20" y="393.55" width="3.9" height="4.0" fill="#0b5ea8"/>
<text transform="translate(525.20,397.90) scale(1,1.08)" font-size="6.85" fill="#0b5ea8" text-anchor="end" >Fra2(bZIP)</text>
<rect x="533.00" y="400.78" width="22.10" height="4.4" fill="#333333"/>
<rect x="527.20" y="400.98" width="3.9" height="4.0" fill="#0b5ea8"/>
<text transform="translate(525.20,405.33) scale(1,1.08)" font-size="6.85" fill="#0b5ea8" text-anchor="end" >Fosl2(bZIP)</text>
<rect x="533.00" y="408.20" width="18.10" height="4.4" fill="#333333"/>
<rect x="527.20" y="408.40" width="3.9" height="4.0" fill="#0b5ea8"/>
<text transform="translate(525.20,412.75) scale(1,1.08)" font-size="6.85" fill="#0b5ea8" text-anchor="end" >Jun−AP1(bZIP)</text>
<rect x="533.00" y="415.62" width="10.80" height="4.4" fill="#333333"/>
<rect x="527.20" y="415.82" width="3.9" height="4.0" fill="#a3a3a3"/>
<text transform="translate(525.20,420.18) scale(1,1.08)" font-size="6.85" fill="#a3a3a3" text-anchor="end" >ETS1(ETS)</text>
<rect x="533.00" y="423.05" width="9.70" height="4.4" fill="#333333"/>
<rect x="527.20" y="423.25" width="3.9" height="4.0" fill="#a3a3a3"/>
<text transform="translate(525.20,427.60) scale(1,1.08)" font-size="6.85" fill="#a3a3a3" text-anchor="end" >ERG(ETS)</text>
<rect x="533.00" y="430.48" width="8.80" height="4.4" fill="#333333"/>
<rect x="527.20" y="430.68" width="3.9" height="4.0" fill="#0b5ea8"/>
<text transform="translate(525.20,435.03) scale(1,1.08)" font-size="6.85" fill="#0b5ea8" text-anchor="end" >Bach2(bZIP)</text>
<rect x="533.00" y="437.90" width="8.50" height="4.4" fill="#333333"/>
<rect x="527.20" y="438.10" width="3.9" height="4.0" fill="#a3a3a3"/>
<text transform="translate(525.20,442.45) scale(1,1.08)" font-size="6.85" fill="#a3a3a3" text-anchor="end" >ETV2(ETS)</text>
<rect x="533.00" y="445.32" width="7.90" height="4.4" fill="#333333"/>
<rect x="527.20" y="445.52" width="3.9" height="4.0" fill="#a3a3a3"/>
<text transform="translate(525.20,449.88) scale(1,1.08)" font-size="6.85" fill="#a3a3a3" text-anchor="end" >ETV1(ETS)</text>
<rect x="533.00" y="452.75" width="7.00" height="4.4" fill="#333333"/>
<rect x="527.20" y="452.95" width="3.9" height="4.0" fill="#0b5ea8"/>
<text transform="translate(525.20,457.30) scale(1,1.08)" font-size="6.85" fill="#0b5ea8" text-anchor="end" >NF−E2(bZIP)</text>
<rect x="533.00" y="460.18" width="6.90" height="4.4" fill="#333333"/>
<rect x="527.20" y="460.38" width="3.9" height="4.0" fill="#a3a3a3"/>
<text transform="translate(525.20,464.73) scale(1,1.08)" font-size="6.85" fill="#a3a3a3" text-anchor="end" >ETV4(ETS)</text>
<rect x="533.00" y="467.60" width="6.70" height="4.4" fill="#333333"/>
<rect x="527.20" y="467.80" width="3.9" height="4.0" fill="#a3a3a3"/>
<text transform="translate(525.20,472.15) scale(1,1.08)" font-size="6.85" fill="#a3a3a3" text-anchor="end" >MafK(bZIP)</text>
<rect x="533.00" y="475.03" width="6.30" height="4.4" fill="#333333"/>
<rect x="527.20" y="475.23" width="3.9" height="4.0" fill="#a3a3a3"/>
<text transform="translate(525.20,479.58) scale(1,1.08)" font-size="6.85" fill="#a3a3a3" text-anchor="end"  textLength="54.00" lengthAdjust="spacingAndGlyphs">Nkx6.1(Homeobox)</text>
<rect x="533.00" y="482.45" width="6.10" height="4.4" fill="#333333"/>
<rect x="527.20" y="482.65" width="3.9" height="4.0" fill="#0b5ea8"/>
<text transform="translate(525.20,487.00) scale(1,1.08)" font-size="6.85" fill="#0b5ea8" text-anchor="end" >Bach1(bZIP)</text>
<rect x="533.00" y="489.88" width="6.00" height="4.4" fill="#333333"/>
<rect x="527.20" y="490.07" width="3.9" height="4.0" fill="#a3a3a3"/>
<text transform="translate(525.20,494.43) scale(1,1.08)" font-size="6.85" fill="#a3a3a3" text-anchor="end" >FLI1(ETS)</text>
<line x1="540.90" y1="346.10" x2="540.90" y2="496.00" stroke="#fff" stroke-opacity="0.09" stroke-width="0.8"/>
<line x1="548.80" y1="346.10" x2="548.80" y2="496.00" stroke="#fff" stroke-opacity="0.09" stroke-width="0.8"/>
<line x1="556.70" y1="346.10" x2="556.70" y2="496.00" stroke="#fff" stroke-opacity="0.09" stroke-width="0.8"/>
<line x1="564.60" y1="346.10" x2="564.60" y2="496.00" stroke="#fff" stroke-opacity="0.09" stroke-width="0.8"/>
<line x1="530.80" y1="496.50" x2="573.00" y2="496.50" stroke="#555" stroke-width="1"/>
<line x1="533.00" y1="497.00" x2="533.00" y2="498.50" stroke="#aaa" stroke-width="0.9"/>
<text x="533.00" y="506.90" font-size="6.4" fill="#333" text-anchor="middle" >0</text>
<line x1="540.90" y1="497.00" x2="540.90" y2="498.50" stroke="#aaa" stroke-width="0.9"/>
<text x="540.90" y="506.90" font-size="6.4" fill="#333" text-anchor="middle" >20</text>
<line x1="548.80" y1="497.00" x2="548.80" y2="498.50" stroke="#aaa" stroke-width="0.9"/>
<text x="548.80" y="506.90" font-size="6.4" fill="#333" text-anchor="middle" >40</text>
<line x1="556.70" y1="497.00" x2="556.70" y2="498.50" stroke="#aaa" stroke-width="0.9"/>
<text x="556.70" y="506.90" font-size="6.4" fill="#333" text-anchor="middle" >60</text>
<line x1="564.60" y1="497.00" x2="564.60" y2="498.50" stroke="#aaa" stroke-width="0.9"/>
<text x="564.60" y="506.90" font-size="6.4" fill="#333" text-anchor="middle" >80</text>
<text transform="translate(551.90,516.30) scale(1,1.15)" font-size="8.0" fill="#222" text-anchor="middle" >−logP</text>
<line x1="645.00" y1="346.10" x2="645.00" y2="496.50" stroke="#e3e3e3" stroke-width="0.8"/>
<line x1="655.90" y1="346.10" x2="655.90" y2="496.50" stroke="#e3e3e3" stroke-width="0.8"/>
<line x1="666.80" y1="346.10" x2="666.80" y2="496.50" stroke="#e3e3e3" stroke-width="0.8"/>
<line x1="677.70" y1="346.10" x2="677.70" y2="496.50" stroke="#e3e3e3" stroke-width="0.8"/>
<rect x="645.00" y="348.80" width="37.80" height="4.4" fill="#333333"/>
<rect x="639.00" y="349.00" width="3.9" height="4.0" fill="#939313"/>
<text transform="translate(637.10,353.35) scale(1,1.08)" font-size="6.85" fill="#939313" text-anchor="end"  textLength="54.00" lengthAdjust="spacingAndGlyphs">GATA:SCL(Zf,bHLH)</text>
<rect x="645.00" y="356.23" width="27.00" height="4.4" fill="#333333"/>
<rect x="639.00" y="356.43" width="3.9" height="4.0" fill="#939313"/>
<text transform="translate(637.10,360.78) scale(1,1.08)" font-size="6.85" fill="#939313" text-anchor="end" >GATA4(Zf)</text>
<rect x="645.00" y="363.65" width="22.70" height="4.4" fill="#333333"/>
<rect x="639.00" y="363.85" width="3.9" height="4.0" fill="#939313"/>
<text transform="translate(637.10,368.20) scale(1,1.08)" font-size="6.85" fill="#939313" text-anchor="end" >GATA6(Zf)</text>
<rect x="645.00" y="371.07" width="22.70" height="4.4" fill="#333333"/>
<rect x="639.00" y="371.27" width="3.9" height="4.0" fill="#939313"/>
<text transform="translate(637.10,375.62) scale(1,1.08)" font-size="6.85" fill="#939313" text-anchor="end" >GATA3(Zf)</text>
<rect x="645.00" y="378.50" width="20.10" height="4.4" fill="#333333"/>
<rect x="639.00" y="378.70" width="3.9" height="4.0" fill="#939313"/>
<text transform="translate(637.10,383.05) scale(1,1.08)" font-size="6.85" fill="#939313" text-anchor="end" >TRPS1(Zf)</text>
<rect x="645.00" y="385.93" width="17.70" height="4.4" fill="#333333"/>
<rect x="639.00" y="386.12" width="3.9" height="4.0" fill="#939313"/>
<text transform="translate(637.10,390.48) scale(1,1.08)" font-size="6.85" fill="#939313" text-anchor="end" >GATA2(Zf)</text>
<rect x="645.00" y="393.35" width="16.70" height="4.4" fill="#333333"/>
<rect x="639.00" y="393.55" width="3.9" height="4.0" fill="#939313"/>
<text transform="translate(637.10,397.90) scale(1,1.08)" font-size="6.85" fill="#939313" text-anchor="end" >GATA1(Zf)</text>
<rect x="645.00" y="400.78" width="13.50" height="4.4" fill="#333333"/>
<rect x="639.00" y="400.98" width="3.9" height="4.0" fill="#a3a3a3"/>
<text transform="translate(637.10,405.33) scale(1,1.08)" font-size="6.85" fill="#a3a3a3" text-anchor="end" >Twist2(bHLH)</text>
<rect x="645.00" y="408.20" width="13.50" height="4.4" fill="#333333"/>
<rect x="639.00" y="408.40" width="3.9" height="4.0" fill="#a3a3a3"/>
<text transform="translate(637.10,412.75) scale(1,1.08)" font-size="6.85" fill="#a3a3a3" text-anchor="end" >TCF4(bHLH)</text>
<rect x="645.00" y="415.62" width="13.20" height="4.4" fill="#333333"/>
<rect x="639.00" y="415.82" width="3.9" height="4.0" fill="#a07b72"/>
<text transform="translate(637.10,420.18) scale(1,1.08)" font-size="6.85" fill="#a07b72" text-anchor="end" >EBF(EBF)</text>
<rect x="645.00" y="423.05" width="11.30" height="4.4" fill="#333333"/>
<rect x="639.00" y="423.25" width="3.9" height="4.0" fill="#a07b72"/>
<text transform="translate(637.10,427.60) scale(1,1.08)" font-size="6.85" fill="#a07b72" text-anchor="end" >EBF2(EBF)</text>
<rect x="645.00" y="430.48" width="9.80" height="4.4" fill="#333333"/>
<rect x="639.00" y="430.68" width="3.9" height="4.0" fill="#a07b72"/>
<text transform="translate(637.10,435.03) scale(1,1.08)" font-size="6.85" fill="#a07b72" text-anchor="end" >HEB(bHLH)</text>
<rect x="645.00" y="437.90" width="9.80" height="4.4" fill="#333333"/>
<rect x="639.00" y="438.10" width="3.9" height="4.0" fill="#a3a3a3"/>
<text transform="translate(637.10,442.45) scale(1,1.08)" font-size="6.85" fill="#a3a3a3" text-anchor="end" >BHLHA15(bHLH)</text>
<rect x="645.00" y="445.32" width="9.20" height="4.4" fill="#333333"/>
<rect x="639.00" y="445.52" width="3.9" height="4.0" fill="#a3a3a3"/>
<text transform="translate(637.10,449.88) scale(1,1.08)" font-size="6.85" fill="#a3a3a3" text-anchor="end" >Atoh1(bHLH)</text>
<rect x="645.00" y="452.75" width="8.90" height="4.4" fill="#333333"/>
<rect x="639.00" y="452.95" width="3.9" height="4.0" fill="#a07b72"/>
<text transform="translate(637.10,457.30) scale(1,1.08)" font-size="6.85" fill="#a07b72" text-anchor="end" >Ascl2(bHLH)</text>
<rect x="645.00" y="460.18" width="8.90" height="4.4" fill="#333333"/>
<rect x="639.00" y="460.38" width="3.9" height="4.0" fill="#a3a3a3"/>
<text transform="translate(637.10,464.73) scale(1,1.08)" font-size="6.85" fill="#a3a3a3" text-anchor="end" >TCF21(bHLH)</text>
<rect x="645.00" y="467.60" width="8.90" height="4.4" fill="#333333"/>
<rect x="639.00" y="467.80" width="3.9" height="4.0" fill="#a3a3a3"/>
<text transform="translate(637.10,472.15) scale(1,1.08)" font-size="6.85" fill="#a3a3a3" text-anchor="end" >NeuroG2(bHLH)</text>
<rect x="645.00" y="475.03" width="8.90" height="4.4" fill="#333333"/>
<rect x="639.00" y="475.23" width="3.9" height="4.0" fill="#a3a3a3"/>
<text transform="translate(637.10,479.58) scale(1,1.08)" font-size="6.85" fill="#a3a3a3" text-anchor="end" >MyoG(bHLH)</text>
<rect x="645.00" y="482.45" width="8.90" height="4.4" fill="#333333"/>
<rect x="639.00" y="482.65" width="3.9" height="4.0" fill="#a07b72"/>
<text transform="translate(637.10,487.00) scale(1,1.08)" font-size="6.85" fill="#a07b72" text-anchor="end" >E2A(bHLH)</text>
<rect x="645.00" y="489.88" width="8.60" height="4.4" fill="#333333"/>
<rect x="639.00" y="490.07" width="3.9" height="4.0" fill="#a07b72"/>
<text transform="translate(637.10,494.43) scale(1,1.08)" font-size="6.85" fill="#a07b72" text-anchor="end" >TCF12(bHLH)</text>
<line x1="655.90" y1="346.10" x2="655.90" y2="496.00" stroke="#fff" stroke-opacity="0.09" stroke-width="0.8"/>
<line x1="666.80" y1="346.10" x2="666.80" y2="496.00" stroke="#fff" stroke-opacity="0.09" stroke-width="0.8"/>
<line x1="677.70" y1="346.10" x2="677.70" y2="496.00" stroke="#fff" stroke-opacity="0.09" stroke-width="0.8"/>
<line x1="643.00" y1="496.50" x2="685.50" y2="496.50" stroke="#555" stroke-width="1"/>
<line x1="645.00" y1="497.00" x2="645.00" y2="498.50" stroke="#aaa" stroke-width="0.9"/>
<text x="645.00" y="506.90" font-size="6.4" fill="#333" text-anchor="middle" >0</text>
<line x1="655.90" y1="497.00" x2="655.90" y2="498.50" stroke="#aaa" stroke-width="0.9"/>
<text x="655.90" y="506.90" font-size="6.4" fill="#333" text-anchor="middle" >10</text>
<line x1="666.80" y1="497.00" x2="666.80" y2="498.50" stroke="#aaa" stroke-width="0.9"/>
<text x="666.80" y="506.90" font-size="6.4" fill="#333" text-anchor="middle" >20</text>
<line x1="677.70" y1="497.00" x2="677.70" y2="498.50" stroke="#aaa" stroke-width="0.9"/>
<text x="677.70" y="506.90" font-size="6.4" fill="#333" text-anchor="middle" >30</text>
<text transform="translate(664.25,516.30) scale(1,1.15)" font-size="8.0" fill="#222" text-anchor="middle" >−logP</text>
<text transform="translate(357.80,17.60) scale(1,1.15)" font-size="9.4" fill="#5b6cc0" text-anchor="middle" >Stem</text>
<line x1="262.20" y1="24.40" x2="453.40" y2="24.40" stroke="#5b6cc0" stroke-width="1.1"/>
<text transform="translate(585.05,17.60) scale(1,1.15)" font-size="9.4" fill="#80b957" text-anchor="middle" >Progenitor</text>
<line x1="488.10" y1="24.40" x2="682.00" y2="24.40" stroke="#80b957" stroke-width="1.1"/>
<text transform="translate(357.65,293.60) scale(1,1.15)" font-size="9.4" fill="#5b6cc0" text-anchor="middle" >Stem</text>
<line x1="261.90" y1="300.40" x2="453.40" y2="300.40" stroke="#5b6cc0" stroke-width="1.1"/>
<text transform="translate(585.05,293.60) scale(1,1.15)" font-size="9.4" fill="#80b957" text-anchor="middle" >Progenitor</text>
<line x1="488.00" y1="300.40" x2="682.10" y2="300.40" stroke="#80b957" stroke-width="1.1"/>
<text transform="translate(303.00,37.00) scale(1,1.2)" font-size="8.1" fill="#5b6cc0" text-anchor="middle" >3405</text>
<rect x="262.30" y="41.40" width="81.40" height="23.90" fill="none" stroke="#5b6cc0" stroke-width="1"/>
<text transform="translate(310.50,51.80) scale(1,1.15)" font-size="8.12" fill="#111" text-anchor="end" >Peak signal</text>
<text transform="translate(310.50,61.60) scale(1,1.15)" font-size="8.12" fill="#111" text-anchor="end" >IPSS-M</text>
<path d="M314.70,51.90 L314.70,51.00 L338.10,44.90 L338.10,51.90 Z" fill="#c55d37"/>
<path d="M314.70,61.90 L314.70,61.00 L338.10,54.80 L338.10,61.90 Z" fill="#a59d12"/>
<text transform="translate(412.75,37.00) scale(1,1.2)" font-size="8.1" fill="#5b6cc0" text-anchor="middle" >3117</text>
<rect x="372.10" y="41.40" width="81.30" height="23.90" fill="none" stroke="#5b6cc0" stroke-width="1"/>
<text transform="translate(420.30,51.80) scale(1,1.15)" font-size="8.12" fill="#111" text-anchor="end" >Peak signal</text>
<text transform="translate(420.30,61.60) scale(1,1.15)" font-size="8.12" fill="#111" text-anchor="end" >IPSS-M</text>
<path d="M424.50,44.90 L424.50,51.90 L447.90,51.90 L447.90,51.00 Z" fill="#c55d37"/>
<path d="M424.50,61.90 L424.50,61.00 L447.90,54.80 L447.90,61.90 Z" fill="#a59d12"/>
<text transform="translate(528.80,37.00) scale(1,1.2)" font-size="8.1" fill="#80b957" text-anchor="middle" >2980</text>
<rect x="488.30" y="41.40" width="81.00" height="23.90" fill="none" stroke="#80b957" stroke-width="1"/>
<text transform="translate(536.50,51.80) scale(1,1.15)" font-size="8.12" fill="#111" text-anchor="end" >Peak signal</text>
<text transform="translate(536.50,61.60) scale(1,1.15)" font-size="8.12" fill="#111" text-anchor="end" >IPSS-M</text>
<path d="M540.70,51.90 L540.70,51.00 L564.10,44.90 L564.10,51.90 Z" fill="#c55d37"/>
<path d="M540.70,61.90 L540.70,61.00 L564.10,54.80 L564.10,61.90 Z" fill="#a59d12"/>
<text transform="translate(641.20,37.00) scale(1,1.2)" font-size="8.1" fill="#80b957" text-anchor="middle" >1961</text>
<rect x="600.60" y="41.40" width="81.20" height="23.90" fill="none" stroke="#80b957" stroke-width="1"/>
<text transform="translate(648.80,51.80) scale(1,1.15)" font-size="8.12" fill="#111" text-anchor="end" >Peak signal</text>
<text transform="translate(648.80,61.60) scale(1,1.15)" font-size="8.12" fill="#111" text-anchor="end" >IPSS-M</text>
<path d="M653.00,44.90 L653.00,51.90 L676.40,51.90 L676.40,51.00 Z" fill="#c55d37"/>
<path d="M653.00,61.90 L653.00,61.00 L676.40,54.80 L676.40,61.90 Z" fill="#a59d12"/>
<text transform="translate(310.00,312.80) scale(1,1.2)" font-size="8.1" fill="#5b6cc0" text-anchor="middle" >1007</text>
<rect x="266.10" y="318.20" width="81.30" height="23.80" fill="none" stroke="#5b6cc0" stroke-width="1"/>
<text transform="translate(314.30,328.60) scale(1,1.15)" font-size="8.12" fill="#111" text-anchor="end" >Peak signal</text>
<text transform="translate(313.70,338.40) scale(1,1.15)" font-size="8.12" fill="#111" text-anchor="end" >Blast</text>
<path d="M318.50,328.70 L318.50,327.80 L341.90,321.70 L341.90,328.70 Z" fill="#c55d37"/>
<path d="M318.50,338.70 L318.50,337.80 L341.90,331.60 L341.90,338.70 Z" fill="#333333"/>
<text transform="translate(411.50,312.80) scale(1,1.2)" font-size="8.1" fill="#5b6cc0" text-anchor="middle" >788</text>
<rect x="371.40" y="318.20" width="81.30" height="23.80" fill="none" stroke="#5b6cc0" stroke-width="1"/>
<text transform="translate(419.60,328.60) scale(1,1.15)" font-size="8.12" fill="#111" text-anchor="end" >Peak signal</text>
<text transform="translate(419.00,338.40) scale(1,1.15)" font-size="8.12" fill="#111" text-anchor="end" >Blast</text>
<path d="M423.80,321.70 L423.80,328.70 L447.20,328.70 L447.20,327.80 Z" fill="#c55d37"/>
<path d="M423.80,338.70 L423.80,337.80 L447.20,331.60 L447.20,338.70 Z" fill="#333333"/>
<text transform="translate(528.90,312.80) scale(1,1.2)" font-size="8.1" fill="#80b957" text-anchor="middle" >1880</text>
<rect x="486.60" y="318.20" width="81.70" height="23.80" fill="none" stroke="#80b957" stroke-width="1"/>
<text transform="translate(534.80,328.60) scale(1,1.15)" font-size="8.12" fill="#111" text-anchor="end" >Peak signal</text>
<text transform="translate(534.20,338.40) scale(1,1.15)" font-size="8.12" fill="#111" text-anchor="end" >Blast</text>
<path d="M539.00,328.70 L539.00,327.80 L562.40,321.70 L562.40,328.70 Z" fill="#c55d37"/>
<path d="M539.00,338.70 L539.00,337.80 L562.40,331.60 L562.40,338.70 Z" fill="#333333"/>
<text transform="translate(635.90,312.80) scale(1,1.2)" font-size="8.1" fill="#80b957" text-anchor="middle" >2344</text>
<rect x="596.40" y="318.20" width="81.30" height="23.80" fill="none" stroke="#80b957" stroke-width="1"/>
<text transform="translate(644.60,328.60) scale(1,1.15)" font-size="8.12" fill="#111" text-anchor="end" >Peak signal</text>
<text transform="translate(644.00,338.40) scale(1,1.15)" font-size="8.12" fill="#111" text-anchor="end" >Blast</text>
<path d="M648.80,321.70 L648.80,328.70 L672.20,328.70 L672.20,327.80 Z" fill="#c55d37"/>
<path d="M648.80,338.70 L648.80,337.80 L672.20,331.60 L672.20,338.70 Z" fill="#333333"/>
<rect x="215.1" y="169.20" width="5" height="5" fill="#0b5ea8"/>
<text transform="translate(222.70,175.15) scale(1,1.15)" font-size="8.0" fill="#0b5ea8" text-anchor="start" >HSC</text>
<rect x="215.1" y="176.93" width="5" height="5" fill="#5cc3dd"/>
<text transform="translate(222.70,182.88) scale(1,1.15)" font-size="8.0" fill="#5cc3dd" text-anchor="start" >MPP</text>
<rect x="215.1" y="184.66" width="5" height="5" fill="#3a8fa3"/>
<text transform="translate(222.70,190.61) scale(1,1.15)" font-size="8.0" fill="#3a8fa3" text-anchor="start" >MLP</text>
<rect x="215.1" y="192.39" width="5" height="5" fill="#3d3d3d"/>
<text transform="translate(222.70,198.34) scale(1,1.15)" font-size="8.0" fill="#3d3d3d" text-anchor="start" >CMP</text>
<rect x="215.1" y="200.12" width="5" height="5" fill="#0b7a32"/>
<text transform="translate(222.70,206.07) scale(1,1.15)" font-size="8.0" fill="#0b7a32" text-anchor="start" >GMP</text>
<rect x="215.1" y="207.85" width="5" height="5" fill="#939313"/>
<text transform="translate(222.70,213.80) scale(1,1.15)" font-size="8.0" fill="#939313" text-anchor="start" >MEP</text>
<rect x="215.1" y="215.58" width="5" height="5" fill="#a07b72"/>
<text transform="translate(222.70,221.53) scale(1,1.15)" font-size="8.0" fill="#a07b72" text-anchor="start" >CLP</text>
</svg>
</body></html>
